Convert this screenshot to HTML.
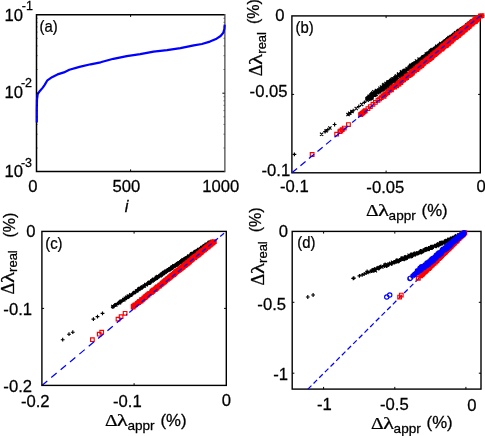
<!DOCTYPE html>
<html><head><meta charset="utf-8"><title>figure</title>
<style>
html,body{margin:0;padding:0;background:#fff;}
body{width:485px;height:436px;overflow:hidden;font-family:"Liberation Sans",sans-serif;}
svg{display:block;will-change:transform;}
</style></head><body>
<svg width="485" height="436" viewBox="0 0 485 436" font-family="'Liberation Sans', sans-serif" font-size="16" fill="#000" stroke="#000" stroke-width=".25">
<rect width="485" height="436" fill="#fff" stroke="none"/>
<path d="M224.6 14.7H36.5V171.6H224.6" fill="none" stroke="#000" stroke-width="1.5"/>
<path d="M224.9 14V172.3" fill="none" stroke="#222" stroke-width="1.05"/>
<polyline points="36.8,122.5 36.8,110.6 37,99.5 37.7,94 40.1,90.7 42.8,87.6 44.7,84.9 47.4,80.3 52,77.2 57.5,74.4 63.9,72.4 69.4,69.8 79.5,66.9 90.6,64.3 100.6,62.3 113.4,58.8 126.8,56.1 140.2,54.2 153.6,51.6 167,50.2 180.4,48.1 193.8,45.4 201.9,44 209.9,41.6 216.6,38.7 220.6,36 223.3,32.8 224.4,28.8 224.7,24.7" fill="none" stroke="#00f" stroke-width="2.2" stroke-linejoin="round"/>
<path d="M130.6 171.6v-2.2M130.6 14.7v2.2M36.5 93.2h2.2M224.6 93.2h-2.2" stroke="#000" stroke-width="1" fill="none"/>
<path d="M36.5 69.5h1.2M224.6 69.5h-1.2M36.5 55.7h1.2M224.6 55.7h-1.2M36.5 45.9h1.2M224.6 45.9h-1.2M36.5 38.3h1.2M224.6 38.3h-1.2M36.5 32.1h1.2M224.6 32.1h-1.2M36.5 26.9h1.2M224.6 26.9h-1.2M36.5 22.3h1.2M224.6 22.3h-1.2M36.5 18.3h1.2M224.6 18.3h-1.2M36.5 148h1.2M224.6 148h-1.2M36.5 134.2h1.2M224.6 134.2h-1.2M36.5 124.4h1.2M224.6 124.4h-1.2M36.5 116.8h1.2M224.6 116.8h-1.2M36.5 110.6h1.2M224.6 110.6h-1.2M36.5 105.3h1.2M224.6 105.3h-1.2M36.5 100.8h1.2M224.6 100.8h-1.2M36.5 96.7h1.2M224.6 96.7h-1.2" stroke="#000" stroke-width=".5" fill="none"/>
<text transform="translate(4.6 21) scale(1.04 1)">10</text>
<text transform="translate(21.8 10.2) scale(1.04 1)" font-size="12">-1</text>
<text transform="translate(4.6 97.5) scale(1.04 1)">10</text>
<text transform="translate(20.9 86.5) scale(1.04 1)" font-size="12">-2</text>
<text transform="translate(4.6 177.1) scale(1.04 1)">10</text>
<text transform="translate(20.9 166.6) scale(1.04 1)" font-size="12">-3</text>
<text transform="translate(32.9 192.4) scale(1.04 1)" text-anchor="middle">0</text>
<text transform="translate(126.4 192.4) scale(1.04 1)" text-anchor="middle">500</text>
<text transform="translate(220.7 192.4) scale(1.04 1)" text-anchor="middle">1000</text>
<text transform="translate(126.5 212) scale(1.04 1)" text-anchor="middle" font-style="italic">i</text>
<text transform="translate(39.6 31.5) scale(0.93 1)">(a)</text>
<rect x="291.9" y="15.9" width="188.4" height="156.9" fill="none" stroke="#000" stroke-width="1.4"/>
<path d="M386.1 172.8v-2.2M386.1 15.9v2.2M291.9 94.4h2.2M480.3 94.4h-2.2" stroke="#000" stroke-width="1" fill="none"/>
<g fill="none">
<path d="M292.5 154.4h3.8M294.4 152.5v3.8M323.2 131.6h3.8M325.1 129.7v3.8M325.9 129.6h3.8M327.8 127.7v3.8M332.7 124.5h3.8M334.6 122.6v3.8M346.9 114h3.8M348.8 112.1v3.8M348.9 112.5h3.8M350.8 110.6v3.8M351.3 110.7h3.8M353.2 108.8v3.8M356.9 106.5h3.8M358.8 104.6v3.8M362.5 102.4h3.8M364.4 100.5v3.8M367.2 98.9h3.8M369.1 97v3.8M480.5 15.7h3.8M482.4 13.8v3.8M477.5 15.9h3.8M479.4 14v3.8M475.2 17.8h3.8M477.1 15.9v3.8M474.3 18h3.8M476.2 16.1v3.8M474.1 18.2h3.8M476 16.3v3.8M476.1 18.4h3.8M478 16.5v3.8M475.3 18.6h3.8M477.2 16.7v3.8M476.4 18.8h3.8M478.3 16.9v3.8M473 18.9h3.8M474.9 17v3.8M473.5 19.1h3.8M475.4 17.2v3.8M475.5 19.3h3.8M477.4 17.4v3.8M474.8 19.5h3.8M476.7 17.6v3.8M474.4 19.7h3.8M476.3 17.8v3.8M474.1 19.9h3.8M476 18v3.8M473 20.1h3.8M474.9 18.2v3.8M472.7 20.3h3.8M474.6 18.4v3.8M472.5 20.5h3.8M474.4 18.6v3.8M473.1 20.7h3.8M475 18.8v3.8M471.8 20.9h3.8M473.7 19v3.8M472 21.1h3.8M473.9 19.2v3.8M472.9 21.3h3.8M474.8 19.4v3.8M470.1 21.4h3.8M472 19.5v3.8M470.2 21.6h3.8M472.1 19.7v3.8M471.2 21.8h3.8M473.1 19.9v3.8M470.1 22.1h3.8M472 20.2v3.8M470 22.2h3.8M471.9 20.3v3.8M471.6 22.4h3.8M473.5 20.5v3.8M470.1 22.6h3.8M472 20.7v3.8M469 22.8h3.8M470.9 20.9v3.8M470.3 22.9h3.8M472.2 21v3.8M470.7 23.1h3.8M472.6 21.2v3.8M467.6 23.3h3.8M469.5 21.4v3.8M467.8 23.5h3.8M469.7 21.6v3.8M468.3 23.6h3.8M470.2 21.7v3.8M467.3 23.8h3.8M469.2 21.9v3.8M469.5 24h3.8M471.4 22.1v3.8M468.1 24.2h3.8M470 22.3v3.8M466.9 24.3h3.8M468.8 22.4v3.8M467.5 24.5h3.8M469.4 22.6v3.8M465.9 24.7h3.8M467.8 22.8v3.8M465.8 25h3.8M467.7 23.1v3.8M466.3 25.1h3.8M468.2 23.2v3.8M467.7 25.3h3.8M469.6 23.4v3.8M463.8 25.5h3.8M465.7 23.6v3.8M465.8 25.7h3.8M467.7 23.8v3.8M466.6 25.9h3.8M468.5 24v3.8M465.7 26.1h3.8M467.6 24.2v3.8M466.4 26.3h3.8M468.3 24.4v3.8M464.9 26.5h3.8M466.8 24.6v3.8M464.3 26.6h3.8M466.2 24.7v3.8M463.8 26.8h3.8M465.7 24.9v3.8M462.7 27h3.8M464.6 25.1v3.8M465.2 27.1h3.8M467.1 25.2v3.8M461.9 27.3h3.8M463.8 25.4v3.8M462.9 27.5h3.8M464.8 25.6v3.8M462.2 27.6h3.8M464.1 25.7v3.8M461.7 27.8h3.8M463.6 25.9v3.8M460.4 28h3.8M462.3 26.1v3.8M461.6 28.2h3.8M463.5 26.3v3.8M461.9 28.4h3.8M463.8 26.5v3.8M461.7 28.5h3.8M463.6 26.6v3.8M462.3 28.7h3.8M464.2 26.8v3.8M460.9 28.9h3.8M462.8 27v3.8M460.1 29h3.8M462 27.1v3.8M460.9 29.2h3.8M462.8 27.3v3.8M461.1 29.4h3.8M463 27.5v3.8M459.1 29.6h3.8M461 27.7v3.8M458.2 29.7h3.8M460.1 27.8v3.8M458.5 29.9h3.8M460.4 28v3.8M460.6 30.1h3.8M462.5 28.2v3.8M460.3 30.3h3.8M462.2 28.4v3.8M457.9 30.5h3.8M459.8 28.6v3.8M458.8 30.6h3.8M460.7 28.7v3.8M459.4 30.8h3.8M461.3 28.9v3.8M459.7 31h3.8M461.6 29.1v3.8M457.2 31.2h3.8M459.1 29.3v3.8M457.4 31.4h3.8M459.3 29.5v3.8M459.1 31.5h3.8M461 29.6v3.8M459.2 31.7h3.8M461.1 29.8v3.8M458.7 31.9h3.8M460.6 30v3.8M455.4 32.1h3.8M457.3 30.2v3.8M457 32.3h3.8M458.9 30.4v3.8M455.9 32.5h3.8M457.8 30.6v3.8M455.9 32.6h3.8M457.8 30.7v3.8M454.9 32.8h3.8M456.8 30.9v3.8M454.9 33h3.8M456.8 31.1v3.8M455.2 33.2h3.8M457.1 31.3v3.8M457 33.3h3.8M458.9 31.4v3.8M455.5 33.6h3.8M457.4 31.7v3.8M455 33.7h3.8M456.9 31.8v3.8M454.3 33.9h3.8M456.2 32v3.8M453.1 34.1h3.8M455 32.2v3.8M453.4 34.3h3.8M455.3 32.4v3.8M454.9 34.5h3.8M456.8 32.6v3.8M454.2 34.7h3.8M456.1 32.8v3.8M455 34.8h3.8M456.9 32.9v3.8M453 35h3.8M454.9 33.1v3.8M452.4 35.2h3.8M454.3 33.3v3.8M450.2 35.4h3.8M452.1 33.5v3.8M452.4 35.6h3.8M454.3 33.7v3.8M449.6 35.8h3.8M451.5 33.9v3.8M453.3 36h3.8M455.2 34.1v3.8M450.4 36.2h3.8M452.3 34.3v3.8M450.9 36.4h3.8M452.8 34.5v3.8M448.9 36.6h3.8M450.8 34.7v3.8M449.8 36.7h3.8M451.7 34.8v3.8M449 36.9h3.8M450.9 35v3.8M451.3 37.1h3.8M453.2 35.2v3.8M450 37.3h3.8M451.9 35.4v3.8M447.9 37.5h3.8M449.8 35.6v3.8M447.1 37.6h3.8M449 35.7v3.8M448.8 37.8h3.8M450.7 35.9v3.8M448 38h3.8M449.9 36.1v3.8M447 38.2h3.8M448.9 36.3v3.8M448.9 38.4h3.8M450.8 36.5v3.8M447.7 38.6h3.8M449.6 36.7v3.8M447.8 38.8h3.8M449.7 36.9v3.8M446.7 38.9h3.8M448.6 37v3.8M446.4 39.1h3.8M448.3 37.2v3.8M446.4 39.3h3.8M448.3 37.4v3.8M444.7 39.5h3.8M446.6 37.6v3.8M447.3 39.6h3.8M449.2 37.7v3.8M446.7 39.8h3.8M448.6 37.9v3.8M443.8 40h3.8M445.7 38.1v3.8M445.9 40.2h3.8M447.8 38.3v3.8M447 40.3h3.8M448.9 38.4v3.8M445.6 40.5h3.8M447.5 38.6v3.8M446.7 40.7h3.8M448.6 38.8v3.8M444.5 40.8h3.8M446.4 38.9v3.8M444.5 41.1h3.8M446.4 39.2v3.8M442.5 41.3h3.8M444.4 39.4v3.8M442.8 41.5h3.8M444.7 39.6v3.8M441.5 41.6h3.8M443.4 39.7v3.8M442.3 41.8h3.8M444.2 39.9v3.8M443.5 42h3.8M445.4 40.1v3.8M443.7 42.2h3.8M445.6 40.3v3.8M444.3 42.4h3.8M446.2 40.5v3.8M442.7 42.5h3.8M444.6 40.6v3.8M440.9 42.7h3.8M442.8 40.8v3.8M442.6 42.9h3.8M444.5 41v3.8M441.5 43.1h3.8M443.4 41.2v3.8M443.8 43.3h3.8M445.7 41.4v3.8M443.5 43.5h3.8M445.4 41.6v3.8M442.2 43.7h3.8M444.1 41.8v3.8M439.1 43.9h3.8M441 42v3.8M439.7 44.1h3.8M441.6 42.2v3.8M440.3 44.3h3.8M442.2 42.4v3.8M438.8 44.5h3.8M440.7 42.6v3.8M440.3 44.7h3.8M442.2 42.8v3.8M440.3 44.9h3.8M442.2 43v3.8M440.3 45h3.8M442.2 43.1v3.8M439.2 45.2h3.8M441.1 43.3v3.8M437.4 45.4h3.8M439.3 43.5v3.8M437.2 45.6h3.8M439.1 43.7v3.8M438 45.7h3.8M439.9 43.8v3.8M439.7 45.9h3.8M441.6 44v3.8M439.8 46.1h3.8M441.7 44.2v3.8M438.8 46.3h3.8M440.7 44.4v3.8M437.7 46.5h3.8M439.6 44.6v3.8M437.8 46.7h3.8M439.7 44.8v3.8M437.8 46.8h3.8M439.7 44.9v3.8M438.2 47.1h3.8M440.1 45.2v3.8M437.3 47.3h3.8M439.2 45.4v3.8M433.7 47.4h3.8M435.6 45.5v3.8M436.9 47.7h3.8M438.8 45.8v3.8M435.9 47.8h3.8M437.8 45.9v3.8M434.4 48h3.8M436.3 46.1v3.8M435.6 48.2h3.8M437.5 46.3v3.8M435 48.4h3.8M436.9 46.5v3.8M434.2 48.6h3.8M436.1 46.7v3.8M431.6 48.8h3.8M433.5 46.9v3.8M433.8 49h3.8M435.7 47.1v3.8M434.2 49.2h3.8M436.1 47.3v3.8M433.1 49.4h3.8M435 47.5v3.8M430.6 49.6h3.8M432.5 47.7v3.8M433.2 49.8h3.8M435.1 47.9v3.8M433.3 50.1h3.8M435.2 48.2v3.8M432.3 50.3h3.8M434.2 48.4v3.8M432.3 50.5h3.8M434.2 48.6v3.8M430.9 50.7h3.8M432.8 48.8v3.8M430.1 50.9h3.8M432 49v3.8M431.6 51.1h3.8M433.5 49.2v3.8M430 51.3h3.8M431.9 49.4v3.8M430.5 51.5h3.8M432.4 49.6v3.8M432.5 51.7h3.8M434.4 49.8v3.8M430.7 52h3.8M432.6 50.1v3.8M429.5 52.2h3.8M431.4 50.3v3.8M426.6 52.4h3.8M428.5 50.5v3.8M428.9 52.7h3.8M430.8 50.8v3.8M429.6 52.9h3.8M431.5 51v3.8M427.1 53.1h3.8M429 51.2v3.8M427.4 53.4h3.8M429.3 51.5v3.8M425 53.5h3.8M426.9 51.6v3.8M428.1 53.7h3.8M430 51.8v3.8M426.1 53.9h3.8M428 52v3.8M427.8 54.1h3.8M429.7 52.2v3.8M428.6 54.3h3.8M430.5 52.4v3.8M426 54.5h3.8M427.9 52.6v3.8M427.4 54.7h3.8M429.3 52.8v3.8M426.1 54.9h3.8M428 53v3.8M424.9 55.2h3.8M426.8 53.3v3.8M424.6 55.4h3.8M426.5 53.5v3.8M423.4 55.7h3.8M425.3 53.8v3.8M426.3 55.9h3.8M428.2 54v3.8M425.4 56.1h3.8M427.3 54.2v3.8M422.1 56.4h3.8M424 54.5v3.8M424.7 56.6h3.8M426.6 54.7v3.8M422.1 56.7h3.8M424 54.8v3.8M420.5 57h3.8M422.4 55.1v3.8M424.5 57.2h3.8M426.4 55.3v3.8M420.4 57.3h3.8M422.3 55.4v3.8M424 57.5h3.8M425.9 55.6v3.8M422.1 57.8h3.8M424 55.9v3.8M422.9 58h3.8M424.8 56.1v3.8M422 58.2h3.8M423.9 56.3v3.8M422.8 58.4h3.8M424.7 56.5v3.8M421.1 58.7h3.8M423 56.8v3.8M421.1 58.9h3.8M423 57v3.8M420.3 59.1h3.8M422.2 57.2v3.8M421.3 59.4h3.8M423.2 57.5v3.8M418.7 59.6h3.8M420.6 57.7v3.8M420.6 59.9h3.8M422.5 58v3.8M421.1 60h3.8M423 58.1v3.8M418.4 60.2h3.8M420.3 58.3v3.8M418.8 60.5h3.8M420.7 58.6v3.8M416.9 60.8h3.8M418.8 58.9v3.8M416.9 61h3.8M418.8 59.1v3.8M417.5 61.2h3.8M419.4 59.3v3.8M416.3 61.4h3.8M418.2 59.5v3.8M415.1 61.6h3.8M417 59.7v3.8M416.3 61.8h3.8M418.2 59.9v3.8M416.4 62h3.8M418.3 60.1v3.8M416.2 62.3h3.8M418.1 60.4v3.8M416.6 62.5h3.8M418.5 60.6v3.8M412.1 62.8h3.8M414 60.9v3.8M416.9 63.1h3.8M418.8 61.2v3.8M414 63.3h3.8M415.9 61.4v3.8M412.8 63.4h3.8M414.7 61.5v3.8M413.2 63.6h3.8M415.1 61.7v3.8M414.3 63.8h3.8M416.2 61.9v3.8M414.7 64h3.8M416.6 62.1v3.8M412.3 64.3h3.8M414.2 62.4v3.8M412.8 64.5h3.8M414.7 62.6v3.8M409.6 64.7h3.8M411.5 62.8v3.8M412.2 65h3.8M414.1 63.1v3.8M411.4 65.2h3.8M413.3 63.3v3.8M410.6 65.5h3.8M412.5 63.6v3.8M412.6 65.6h3.8M414.5 63.7v3.8M413.7 65.8h3.8M415.6 63.9v3.8M412.2 66.1h3.8M414.1 64.2v3.8M408.9 66.3h3.8M410.8 64.4v3.8M412.5 66.5h3.8M414.4 64.6v3.8M409.1 66.7h3.8M411 64.8v3.8M409.3 66.9h3.8M411.2 65v3.8M408 67.2h3.8M409.9 65.3v3.8M409.5 67.4h3.8M411.4 65.5v3.8M409.2 67.7h3.8M411.1 65.8v3.8M408.1 68h3.8M410 66.1v3.8M406.7 68.6h3.8M408.6 66.7v3.8M406.4 68.9h3.8M408.3 67v3.8M405.4 69.3h3.8M407.3 67.4v3.8M407.4 69.6h3.8M409.3 67.7v3.8M404 70.2h3.8M405.9 68.3v3.8M404.4 70.3h3.8M406.3 68.4v3.8M403.8 70.7h3.8M405.7 68.8v3.8M402.4 71h3.8M404.3 69.1v3.8M402.9 71.4h3.8M404.8 69.5v3.8M400.3 71.7h3.8M402.2 69.8v3.8M403.4 71.8h3.8M405.3 69.9v3.8M403.1 72.3h3.8M405 70.4v3.8M401 72.7h3.8M402.9 70.8v3.8M404.1 72.8h3.8M406 70.9v3.8M399.1 73.3h3.8M401 71.4v3.8M400.9 73.9h3.8M402.8 72v3.8M400.5 74.1h3.8M402.4 72.2v3.8M398.3 74.3h3.8M400.2 72.4v3.8M398.4 74.6h3.8M400.3 72.7v3.8M400.3 74.8h3.8M402.2 72.9v3.8M398.1 75.3h3.8M400 73.4v3.8M398.1 75.6h3.8M400 73.7v3.8M399.8 75.8h3.8M401.7 73.9v3.8M397.4 76h3.8M399.3 74.1v3.8M393 76.7h3.8M394.9 74.8v3.8M393.6 77.5h3.8M395.5 75.6v3.8M395.5 78.3h3.8M397.4 76.4v3.8M392.9 78.9h3.8M394.8 77v3.8M390.8 79h3.8M392.7 77.1v3.8M388.8 79.7h3.8M390.7 77.8v3.8M392.3 79.9h3.8M394.2 78v3.8M393.9 80.4h3.8M395.8 78.5v3.8M387.9 80.9h3.8M389.8 79v3.8M385.8 81.8h3.8M387.7 79.9v3.8M389.5 82.3h3.8M391.4 80.4v3.8M386.9 82.6h3.8M388.8 80.7v3.8M387 82.9h3.8M388.9 81v3.8M386 83.6h3.8M387.9 81.7v3.8M384.1 84.2h3.8M386 82.3v3.8M386.3 84.5h3.8M388.2 82.6v3.8M386.5 85.1h3.8M388.4 83.2v3.8M384.5 85.7h3.8M386.4 83.8v3.8M381.7 86.4h3.8M383.6 84.5v3.8M384 87.1h3.8M385.9 85.2v3.8M381 87.6h3.8M382.9 85.7v3.8M380.8 88.8h3.8M382.7 86.9v3.8M376.2 89.9h3.8M378.1 88v3.8M378.7 90.5h3.8M380.6 88.6v3.8M377.1 91.8h3.8M379 89.9v3.8M377.2 92.5h3.8M379.1 90.6v3.8M372.8 93.8h3.8M374.7 91.9v3.8M372.6 94.6h3.8M374.5 92.7v3.8M368.6 96h3.8M370.5 94.1v3.8M371.2 96.4h3.8M373.1 94.5v3.8M392.7 80.2h3.8M394.6 78.3v3.8M392.6 80.8h3.8M394.5 78.9v3.8M389.1 81.2h3.8M391 79.3v3.8M386.5 81.9h3.8M388.4 80v3.8M388.1 82.5h3.8M390 80.6v3.8M387.1 83h3.8M389 81.1v3.8M385.4 83.4h3.8M387.3 81.5v3.8M387.3 84h3.8M389.2 82.1v3.8M387.2 84.6h3.8M389.1 82.7v3.8M385.2 85.2h3.8M387.1 83.3v3.8M386.1 85.7h3.8M388 83.8v3.8M383.9 86.2h3.8M385.8 84.3v3.8M380.4 86.7h3.8M382.3 84.8v3.8M380.3 87.4h3.8M382.2 85.5v3.8M380.2 87.8h3.8M382.1 85.9v3.8M381.7 88.3h3.8M383.6 86.4v3.8M381.2 89h3.8M383.1 87.1v3.8M378.8 89.6h3.8M380.7 87.7v3.8M379.9 90.1h3.8M381.8 88.2v3.8M375.4 90.6h3.8M377.3 88.7v3.8M376.1 91.2h3.8M378 89.3v3.8M378.9 91.6h3.8M380.8 89.7v3.8M375.8 92.3h3.8M377.7 90.4v3.8M376.5 92.7h3.8M378.4 90.8v3.8M369.9 93.2h3.8M371.8 91.3v3.8M369.1 93.9h3.8M371 92v3.8M370.1 94.5h3.8M372 92.6v3.8M373.4 95h3.8M375.3 93.1v3.8M374.1 95.4h3.8M376 93.5v3.8M368.3 96.2h3.8M370.2 94.3v3.8M366.8 96.7h3.8M368.7 94.8v3.8M366.1 97.1h3.8M368 95.2v3.8M365.6 97.7h3.8M367.5 95.8v3.8M367.9 98.3h3.8M369.8 96.4v3.8M365.3 98.8h3.8M367.2 96.9v3.8M369.1 99.3h3.8M371 97.4v3.8" stroke="#000" stroke-width="1.15"/>
<path d="M320 132.6l3.2 3.2M320 135.8l3.2 -3.2M324.6 129.2l3.2 3.2M324.6 132.4l3.2 -3.2M328.3 126.4l3.2 3.2M328.3 129.6l3.2 -3.2M346.4 113l3.2 3.2M346.4 116.2l3.2 -3.2M348.1 111.7l3.2 3.2M348.1 114.9l3.2 -3.2M350.4 110l3.2 3.2M350.4 113.2l3.2 -3.2M354.6 106.9l3.2 3.2M354.6 110.1l3.2 -3.2M360.1 102.8l3.2 3.2M360.1 106l3.2 -3.2M365.6 98.7l3.2 3.2M365.6 101.9l3.2 -3.2M369.2 96l3.2 3.2M369.2 99.2l3.2 -3.2M479.9 14.1l3.2 3.2M479.9 17.3l3.2 -3.2M478.4 14.3l3.2 3.2M478.4 17.5l3.2 -3.2M476.7 16.2l3.2 3.2M476.7 19.4l3.2 -3.2M476.1 16.4l3.2 3.2M476.1 19.6l3.2 -3.2M476.6 16.6l3.2 3.2M476.6 19.8l3.2 -3.2M476.5 16.8l3.2 3.2M476.5 20l3.2 -3.2M475.1 17l3.2 3.2M475.1 20.2l3.2 -3.2M476 17.2l3.2 3.2M476 20.4l3.2 -3.2M475.5 17.3l3.2 3.2M475.5 20.5l3.2 -3.2M474.6 17.5l3.2 3.2M474.6 20.7l3.2 -3.2M474.7 17.7l3.2 3.2M474.7 20.9l3.2 -3.2M474.8 17.9l3.2 3.2M474.8 21.1l3.2 -3.2M473.6 18.1l3.2 3.2M473.6 21.3l3.2 -3.2M473 18.3l3.2 3.2M473 21.5l3.2 -3.2M474.5 18.5l3.2 3.2M474.5 21.7l3.2 -3.2M473 18.7l3.2 3.2M473 21.9l3.2 -3.2M472.2 18.9l3.2 3.2M472.2 22.1l3.2 -3.2M473 19.1l3.2 3.2M473 22.3l3.2 -3.2M470.9 19.3l3.2 3.2M470.9 22.5l3.2 -3.2M472 19.5l3.2 3.2M472 22.7l3.2 -3.2M470.4 19.7l3.2 3.2M470.4 22.9l3.2 -3.2M471.1 19.8l3.2 3.2M471.1 23l3.2 -3.2M469.6 20l3.2 3.2M469.6 23.2l3.2 -3.2M470.3 20.2l3.2 3.2M470.3 23.4l3.2 -3.2M471.6 20.5l3.2 3.2M471.6 23.7l3.2 -3.2M470.3 20.6l3.2 3.2M470.3 23.8l3.2 -3.2M469 20.8l3.2 3.2M469 24l3.2 -3.2M471.6 21l3.2 3.2M471.6 24.2l3.2 -3.2M469.1 21.2l3.2 3.2M469.1 24.4l3.2 -3.2M470.9 21.3l3.2 3.2M470.9 24.5l3.2 -3.2M468.7 21.5l3.2 3.2M468.7 24.7l3.2 -3.2M467.5 21.7l3.2 3.2M467.5 24.9l3.2 -3.2M470.5 21.9l3.2 3.2M470.5 25.1l3.2 -3.2M468.1 22l3.2 3.2M468.1 25.2l3.2 -3.2M469 22.2l3.2 3.2M469 25.4l3.2 -3.2M469.3 22.4l3.2 3.2M469.3 25.6l3.2 -3.2M466.5 22.6l3.2 3.2M466.5 25.8l3.2 -3.2M467.7 22.7l3.2 3.2M467.7 25.9l3.2 -3.2M466.7 22.9l3.2 3.2M466.7 26.1l3.2 -3.2M467.7 23.1l3.2 3.2M467.7 26.3l3.2 -3.2M466.7 23.4l3.2 3.2M466.7 26.6l3.2 -3.2M465.2 23.5l3.2 3.2M465.2 26.7l3.2 -3.2M466.3 23.7l3.2 3.2M466.3 26.9l3.2 -3.2M466.7 23.9l3.2 3.2M466.7 27.1l3.2 -3.2M465.4 24.1l3.2 3.2M465.4 27.3l3.2 -3.2M466 24.3l3.2 3.2M466 27.5l3.2 -3.2M464.6 24.5l3.2 3.2M464.6 27.7l3.2 -3.2M464.9 24.7l3.2 3.2M464.9 27.9l3.2 -3.2M465 24.9l3.2 3.2M465 28.1l3.2 -3.2M464.6 25l3.2 3.2M464.6 28.2l3.2 -3.2M465.5 25.2l3.2 3.2M465.5 28.4l3.2 -3.2M465 25.4l3.2 3.2M465 28.6l3.2 -3.2M464.6 25.5l3.2 3.2M464.6 28.7l3.2 -3.2M464.3 25.7l3.2 3.2M464.3 28.9l3.2 -3.2M463.5 25.9l3.2 3.2M463.5 29.1l3.2 -3.2M461.8 26l3.2 3.2M461.8 29.2l3.2 -3.2M464 26.2l3.2 3.2M464 29.4l3.2 -3.2M464.4 26.4l3.2 3.2M464.4 29.6l3.2 -3.2M462.6 26.6l3.2 3.2M462.6 29.8l3.2 -3.2M461.8 26.8l3.2 3.2M461.8 30l3.2 -3.2M461.8 26.9l3.2 3.2M461.8 30.1l3.2 -3.2M462.9 27.1l3.2 3.2M462.9 30.3l3.2 -3.2M461.7 27.3l3.2 3.2M461.7 30.5l3.2 -3.2M460.1 27.4l3.2 3.2M460.1 30.6l3.2 -3.2M460.7 27.6l3.2 3.2M460.7 30.8l3.2 -3.2M459.8 27.8l3.2 3.2M459.8 31l3.2 -3.2M460.2 28l3.2 3.2M460.2 31.2l3.2 -3.2M459.2 28.1l3.2 3.2M459.2 31.3l3.2 -3.2M459 28.3l3.2 3.2M459 31.5l3.2 -3.2M461.3 28.5l3.2 3.2M461.3 31.7l3.2 -3.2M460.6 28.7l3.2 3.2M460.6 31.9l3.2 -3.2M457.5 28.9l3.2 3.2M457.5 32.1l3.2 -3.2M457.9 29l3.2 3.2M457.9 32.2l3.2 -3.2M458.3 29.2l3.2 3.2M458.3 32.4l3.2 -3.2M458.1 29.4l3.2 3.2M458.1 32.6l3.2 -3.2M456.7 29.6l3.2 3.2M456.7 32.8l3.2 -3.2M459 29.8l3.2 3.2M459 33l3.2 -3.2M456 29.9l3.2 3.2M456 33.1l3.2 -3.2M458.3 30.1l3.2 3.2M458.3 33.3l3.2 -3.2M458 30.3l3.2 3.2M458 33.5l3.2 -3.2M456.6 30.5l3.2 3.2M456.6 33.7l3.2 -3.2M456 30.7l3.2 3.2M456 33.9l3.2 -3.2M456.6 30.9l3.2 3.2M456.6 34.1l3.2 -3.2M456.5 31l3.2 3.2M456.5 34.2l3.2 -3.2M454 31.2l3.2 3.2M454 34.4l3.2 -3.2M454.3 31.4l3.2 3.2M454.3 34.6l3.2 -3.2M456.2 31.6l3.2 3.2M456.2 34.8l3.2 -3.2M455.2 31.7l3.2 3.2M455.2 34.9l3.2 -3.2M454.5 32l3.2 3.2M454.5 35.2l3.2 -3.2M453.6 32.1l3.2 3.2M453.6 35.3l3.2 -3.2M453.7 32.3l3.2 3.2M453.7 35.5l3.2 -3.2M453.4 32.5l3.2 3.2M453.4 35.7l3.2 -3.2M456 32.7l3.2 3.2M456 35.9l3.2 -3.2M452.3 32.9l3.2 3.2M452.3 36.1l3.2 -3.2M455.3 33.1l3.2 3.2M455.3 36.3l3.2 -3.2M453.9 33.2l3.2 3.2M453.9 36.4l3.2 -3.2M453.3 33.4l3.2 3.2M453.3 36.6l3.2 -3.2M453 33.6l3.2 3.2M453 36.8l3.2 -3.2M452 33.8l3.2 3.2M452 37l3.2 -3.2M454.2 34l3.2 3.2M454.2 37.2l3.2 -3.2M452.6 34.2l3.2 3.2M452.6 37.4l3.2 -3.2M451.7 34.4l3.2 3.2M451.7 37.6l3.2 -3.2M451.3 34.6l3.2 3.2M451.3 37.8l3.2 -3.2M451.5 34.8l3.2 3.2M451.5 38l3.2 -3.2M449.5 35l3.2 3.2M449.5 38.2l3.2 -3.2M450.3 35.1l3.2 3.2M450.3 38.3l3.2 -3.2M449.7 35.3l3.2 3.2M449.7 38.5l3.2 -3.2M450.9 35.5l3.2 3.2M450.9 38.7l3.2 -3.2M450.7 35.7l3.2 3.2M450.7 38.9l3.2 -3.2M447.6 35.9l3.2 3.2M447.6 39.1l3.2 -3.2M449.2 36l3.2 3.2M449.2 39.2l3.2 -3.2M450.4 36.2l3.2 3.2M450.4 39.4l3.2 -3.2M447.4 36.4l3.2 3.2M447.4 39.6l3.2 -3.2M447.3 36.6l3.2 3.2M447.3 39.8l3.2 -3.2M449.7 36.8l3.2 3.2M449.7 40l3.2 -3.2M448 37l3.2 3.2M448 40.2l3.2 -3.2M447.4 37.2l3.2 3.2M447.4 40.4l3.2 -3.2M446.2 37.3l3.2 3.2M446.2 40.5l3.2 -3.2M447.7 37.5l3.2 3.2M447.7 40.7l3.2 -3.2M446.6 37.7l3.2 3.2M446.6 40.9l3.2 -3.2M447.3 37.9l3.2 3.2M447.3 41.1l3.2 -3.2M447.3 38l3.2 3.2M447.3 41.2l3.2 -3.2M447.4 38.2l3.2 3.2M447.4 41.4l3.2 -3.2M445.9 38.4l3.2 3.2M445.9 41.6l3.2 -3.2M445.4 38.6l3.2 3.2M445.4 41.8l3.2 -3.2M445.9 38.7l3.2 3.2M445.9 41.9l3.2 -3.2M445.5 38.9l3.2 3.2M445.5 42.1l3.2 -3.2M445.6 39.1l3.2 3.2M445.6 42.3l3.2 -3.2M444.5 39.2l3.2 3.2M444.5 42.4l3.2 -3.2M444.5 39.5l3.2 3.2M444.5 42.7l3.2 -3.2M443.8 39.7l3.2 3.2M443.8 42.9l3.2 -3.2M443.5 39.9l3.2 3.2M443.5 43.1l3.2 -3.2M444.2 40l3.2 3.2M444.2 43.2l3.2 -3.2M445.3 40.2l3.2 3.2M445.3 43.4l3.2 -3.2M442.8 40.4l3.2 3.2M442.8 43.6l3.2 -3.2M444.1 40.6l3.2 3.2M444.1 43.8l3.2 -3.2M443.5 40.8l3.2 3.2M443.5 44l3.2 -3.2M443 40.9l3.2 3.2M443 44.1l3.2 -3.2M443.4 41.1l3.2 3.2M443.4 44.3l3.2 -3.2M441.6 41.3l3.2 3.2M441.6 44.5l3.2 -3.2M442.8 41.5l3.2 3.2M442.8 44.7l3.2 -3.2M442.2 41.7l3.2 3.2M442.2 44.9l3.2 -3.2M439.3 41.9l3.2 3.2M439.3 45.1l3.2 -3.2M441.7 42.1l3.2 3.2M441.7 45.3l3.2 -3.2M441.8 42.3l3.2 3.2M441.8 45.5l3.2 -3.2M443 42.5l3.2 3.2M443 45.7l3.2 -3.2M439 42.7l3.2 3.2M439 45.9l3.2 -3.2M440.2 42.9l3.2 3.2M440.2 46.1l3.2 -3.2M440.3 43.1l3.2 3.2M440.3 46.3l3.2 -3.2M438.4 43.3l3.2 3.2M438.4 46.5l3.2 -3.2M441 43.4l3.2 3.2M441 46.6l3.2 -3.2M439.8 43.6l3.2 3.2M439.8 46.8l3.2 -3.2M437.8 43.8l3.2 3.2M437.8 47l3.2 -3.2M437.1 44l3.2 3.2M437.1 47.2l3.2 -3.2M437.9 44.1l3.2 3.2M437.9 47.3l3.2 -3.2M440.5 44.3l3.2 3.2M440.5 47.5l3.2 -3.2M440.3 44.5l3.2 3.2M440.3 47.7l3.2 -3.2M435.4 44.7l3.2 3.2M435.4 47.9l3.2 -3.2M435.1 44.9l3.2 3.2M435.1 48.1l3.2 -3.2M438.1 45.1l3.2 3.2M438.1 48.3l3.2 -3.2M436.8 45.2l3.2 3.2M436.8 48.4l3.2 -3.2M435.8 45.5l3.2 3.2M435.8 48.7l3.2 -3.2M437.2 45.7l3.2 3.2M437.2 48.9l3.2 -3.2M436.3 45.8l3.2 3.2M436.3 49l3.2 -3.2M436.3 46.1l3.2 3.2M436.3 49.3l3.2 -3.2M436 46.2l3.2 3.2M436 49.4l3.2 -3.2M433.9 46.4l3.2 3.2M433.9 49.6l3.2 -3.2M437 46.6l3.2 3.2M437 49.8l3.2 -3.2M434.3 46.8l3.2 3.2M434.3 50l3.2 -3.2M436.1 47l3.2 3.2M436.1 50.2l3.2 -3.2M435.2 47.2l3.2 3.2M435.2 50.4l3.2 -3.2M434 47.4l3.2 3.2M434 50.6l3.2 -3.2M433.9 47.6l3.2 3.2M433.9 50.8l3.2 -3.2M433.4 47.8l3.2 3.2M433.4 51l3.2 -3.2M430.7 48l3.2 3.2M430.7 51.2l3.2 -3.2M432.4 48.2l3.2 3.2M432.4 51.4l3.2 -3.2M433.2 48.5l3.2 3.2M433.2 51.7l3.2 -3.2M430 48.7l3.2 3.2M430 51.9l3.2 -3.2M429.9 48.9l3.2 3.2M429.9 52.1l3.2 -3.2M433.2 49.1l3.2 3.2M433.2 52.3l3.2 -3.2M432.6 49.3l3.2 3.2M432.6 52.5l3.2 -3.2M428.9 49.5l3.2 3.2M428.9 52.7l3.2 -3.2M431.5 49.7l3.2 3.2M431.5 52.9l3.2 -3.2M430.5 49.9l3.2 3.2M430.5 53.1l3.2 -3.2M431.7 50.1l3.2 3.2M431.7 53.3l3.2 -3.2M429.5 50.4l3.2 3.2M429.5 53.6l3.2 -3.2M429.3 50.6l3.2 3.2M429.3 53.8l3.2 -3.2M428.3 50.8l3.2 3.2M428.3 54l3.2 -3.2M429.3 51.1l3.2 3.2M429.3 54.3l3.2 -3.2M428.6 51.3l3.2 3.2M428.6 54.5l3.2 -3.2M427.5 51.5l3.2 3.2M427.5 54.7l3.2 -3.2M427.6 51.8l3.2 3.2M427.6 55l3.2 -3.2M426.7 51.9l3.2 3.2M426.7 55.1l3.2 -3.2M428.5 52.1l3.2 3.2M428.5 55.3l3.2 -3.2M425.8 52.3l3.2 3.2M425.8 55.5l3.2 -3.2M424.7 52.5l3.2 3.2M424.7 55.7l3.2 -3.2M425.4 52.7l3.2 3.2M425.4 55.9l3.2 -3.2M428.2 52.9l3.2 3.2M428.2 56.1l3.2 -3.2M425.5 53.1l3.2 3.2M425.5 56.3l3.2 -3.2M427 53.3l3.2 3.2M427 56.5l3.2 -3.2M426.7 53.6l3.2 3.2M426.7 56.8l3.2 -3.2M424.6 53.8l3.2 3.2M424.6 57l3.2 -3.2M426.1 54.1l3.2 3.2M426.1 57.3l3.2 -3.2M425.4 54.3l3.2 3.2M425.4 57.5l3.2 -3.2M424.3 54.5l3.2 3.2M424.3 57.7l3.2 -3.2M422.9 54.8l3.2 3.2M422.9 58l3.2 -3.2M423.7 55l3.2 3.2M423.7 58.2l3.2 -3.2M421.6 55.1l3.2 3.2M421.6 58.3l3.2 -3.2M422.8 55.4l3.2 3.2M422.8 58.6l3.2 -3.2M422 55.6l3.2 3.2M422 58.8l3.2 -3.2M423.4 55.7l3.2 3.2M423.4 58.9l3.2 -3.2M423 55.9l3.2 3.2M423 59.1l3.2 -3.2M421.1 56.2l3.2 3.2M421.1 59.4l3.2 -3.2M423.1 56.4l3.2 3.2M423.1 59.6l3.2 -3.2M423.4 56.6l3.2 3.2M423.4 59.8l3.2 -3.2M421.4 56.8l3.2 3.2M421.4 60l3.2 -3.2M419.7 57.1l3.2 3.2M419.7 60.3l3.2 -3.2M421.3 57.3l3.2 3.2M421.3 60.5l3.2 -3.2M417.5 57.5l3.2 3.2M417.5 60.7l3.2 -3.2M419 57.8l3.2 3.2M419 61l3.2 -3.2M420.5 58l3.2 3.2M420.5 61.2l3.2 -3.2M422 58.3l3.2 3.2M422 61.5l3.2 -3.2M417.9 58.4l3.2 3.2M417.9 61.6l3.2 -3.2M421.2 58.6l3.2 3.2M421.2 61.8l3.2 -3.2M421.1 58.9l3.2 3.2M421.1 62.1l3.2 -3.2M420.8 59.2l3.2 3.2M420.8 62.4l3.2 -3.2M414.9 59.4l3.2 3.2M414.9 62.6l3.2 -3.2M419.2 59.6l3.2 3.2M419.2 62.8l3.2 -3.2M417.5 59.8l3.2 3.2M417.5 63l3.2 -3.2M418.5 60l3.2 3.2M418.5 63.2l3.2 -3.2M416.3 60.2l3.2 3.2M416.3 63.4l3.2 -3.2M415.4 60.4l3.2 3.2M415.4 63.6l3.2 -3.2M415.6 60.7l3.2 3.2M415.6 63.9l3.2 -3.2M418.2 60.9l3.2 3.2M418.2 64.1l3.2 -3.2M416.6 61.2l3.2 3.2M416.6 64.4l3.2 -3.2M414.4 61.5l3.2 3.2M414.4 64.7l3.2 -3.2M415.2 61.7l3.2 3.2M415.2 64.9l3.2 -3.2M415.8 61.8l3.2 3.2M415.8 65l3.2 -3.2M415.1 62l3.2 3.2M415.1 65.2l3.2 -3.2M413.8 62.2l3.2 3.2M413.8 65.4l3.2 -3.2M412.5 62.4l3.2 3.2M412.5 65.6l3.2 -3.2M411.9 62.7l3.2 3.2M411.9 65.9l3.2 -3.2M412.2 62.9l3.2 3.2M412.2 66.1l3.2 -3.2M411.7 63.1l3.2 3.2M411.7 66.3l3.2 -3.2M409.6 63.4l3.2 3.2M409.6 66.6l3.2 -3.2M409.6 63.6l3.2 3.2M409.6 66.8l3.2 -3.2M413.1 63.9l3.2 3.2M413.1 67.1l3.2 -3.2M409.6 64l3.2 3.2M409.6 67.2l3.2 -3.2M408.9 64.2l3.2 3.2M408.9 67.4l3.2 -3.2M410.7 64.5l3.2 3.2M410.7 67.7l3.2 -3.2M412.9 64.7l3.2 3.2M412.9 67.9l3.2 -3.2M412.3 64.9l3.2 3.2M412.3 68.1l3.2 -3.2M409.3 65.1l3.2 3.2M409.3 68.3l3.2 -3.2M407.9 65.3l3.2 3.2M407.9 68.5l3.2 -3.2M408.4 65.6l3.2 3.2M408.4 68.8l3.2 -3.2M407.5 65.8l3.2 3.2M407.5 69l3.2 -3.2M407.6 66.1l3.2 3.2M407.6 69.3l3.2 -3.2M409 66.4l3.2 3.2M409 69.6l3.2 -3.2M405.6 67l3.2 3.2M405.6 70.2l3.2 -3.2M405.6 67.3l3.2 3.2M405.6 70.5l3.2 -3.2M405.9 67.7l3.2 3.2M405.9 70.9l3.2 -3.2M405.9 68l3.2 3.2M405.9 71.2l3.2 -3.2M403.9 68.6l3.2 3.2M403.9 71.8l3.2 -3.2M403.6 68.7l3.2 3.2M403.6 71.9l3.2 -3.2M402.5 69.1l3.2 3.2M402.5 72.3l3.2 -3.2M402.8 69.4l3.2 3.2M402.8 72.6l3.2 -3.2M404.5 69.8l3.2 3.2M404.5 73l3.2 -3.2M402.8 70.1l3.2 3.2M402.8 73.3l3.2 -3.2M399.9 70.2l3.2 3.2M399.9 73.4l3.2 -3.2M403.5 70.7l3.2 3.2M403.5 73.9l3.2 -3.2M401.7 71.1l3.2 3.2M401.7 74.3l3.2 -3.2M400 71.2l3.2 3.2M400 74.4l3.2 -3.2M400.5 71.7l3.2 3.2M400.5 74.9l3.2 -3.2M397.1 72.3l3.2 3.2M397.1 75.5l3.2 -3.2M396.9 72.5l3.2 3.2M396.9 75.7l3.2 -3.2M401.7 72.7l3.2 3.2M401.7 75.9l3.2 -3.2M402.3 73l3.2 3.2M402.3 76.2l3.2 -3.2M402.1 73.2l3.2 3.2M402.1 76.4l3.2 -3.2M396.9 73.7l3.2 3.2M396.9 76.9l3.2 -3.2M398 74l3.2 3.2M398 77.2l3.2 -3.2M399 74.2l3.2 3.2M399 77.4l3.2 -3.2M395 74.4l3.2 3.2M395 77.6l3.2 -3.2M399.6 75.1l3.2 3.2M399.6 78.3l3.2 -3.2M393.9 75.9l3.2 3.2M393.9 79.1l3.2 -3.2M394.9 76.7l3.2 3.2M394.9 79.9l3.2 -3.2M391.2 77.3l3.2 3.2M391.2 80.5l3.2 -3.2M393.9 77.4l3.2 3.2M393.9 80.6l3.2 -3.2M392.3 78.1l3.2 3.2M392.3 81.3l3.2 -3.2M394.1 78.3l3.2 3.2M394.1 81.5l3.2 -3.2M389.1 78.8l3.2 3.2M389.1 82l3.2 -3.2M390.6 79.3l3.2 3.2M390.6 82.5l3.2 -3.2M392.7 80.2l3.2 3.2M392.7 83.4l3.2 -3.2M386.5 80.7l3.2 3.2M386.5 83.9l3.2 -3.2M389 81l3.2 3.2M389 84.2l3.2 -3.2M388.7 81.3l3.2 3.2M388.7 84.5l3.2 -3.2M386 82l3.2 3.2M386 85.2l3.2 -3.2M385.7 82.6l3.2 3.2M385.7 85.8l3.2 -3.2M388.6 82.9l3.2 3.2M388.6 86.1l3.2 -3.2M387.2 83.5l3.2 3.2M387.2 86.7l3.2 -3.2M385.2 84.1l3.2 3.2M385.2 87.3l3.2 -3.2M383.6 84.8l3.2 3.2M383.6 88l3.2 -3.2M379.9 85.5l3.2 3.2M379.9 88.7l3.2 -3.2M381.7 86l3.2 3.2M381.7 89.2l3.2 -3.2M383.5 87.2l3.2 3.2M383.5 90.4l3.2 -3.2M380.6 88.3l3.2 3.2M380.6 91.5l3.2 -3.2M374.8 88.9l3.2 3.2M374.8 92.1l3.2 -3.2M372.2 90.2l3.2 3.2M372.2 93.4l3.2 -3.2M373.4 90.9l3.2 3.2M373.4 94.1l3.2 -3.2M373.4 92.2l3.2 3.2M373.4 95.4l3.2 -3.2M370.8 93l3.2 3.2M370.8 96.2l3.2 -3.2M369.5 94.4l3.2 3.2M369.5 97.6l3.2 -3.2M370.3 94.8l3.2 3.2M370.3 98l3.2 -3.2M393.3 78.6l3.2 3.2M393.3 81.8l3.2 -3.2M391.2 79.2l3.2 3.2M391.2 82.4l3.2 -3.2M392.6 79.6l3.2 3.2M392.6 82.8l3.2 -3.2M386.4 80.3l3.2 3.2M386.4 83.5l3.2 -3.2M389.4 80.9l3.2 3.2M389.4 84.1l3.2 -3.2M388.6 81.4l3.2 3.2M388.6 84.6l3.2 -3.2M384.3 81.8l3.2 3.2M384.3 85l3.2 -3.2M388.9 82.4l3.2 3.2M388.9 85.6l3.2 -3.2M382.5 83l3.2 3.2M382.5 86.2l3.2 -3.2M381.9 83.6l3.2 3.2M381.9 86.8l3.2 -3.2M387.6 84.1l3.2 3.2M387.6 87.3l3.2 -3.2M386 84.6l3.2 3.2M386 87.8l3.2 -3.2M383.5 85.1l3.2 3.2M383.5 88.3l3.2 -3.2M384.5 85.8l3.2 3.2M384.5 89l3.2 -3.2M383.6 86.2l3.2 3.2M383.6 89.4l3.2 -3.2M378.3 86.7l3.2 3.2M378.3 89.9l3.2 -3.2M380.6 87.4l3.2 3.2M380.6 90.6l3.2 -3.2M381.7 88l3.2 3.2M381.7 91.2l3.2 -3.2M377.8 88.5l3.2 3.2M377.8 91.7l3.2 -3.2M377.6 89l3.2 3.2M377.6 92.2l3.2 -3.2M375.6 89.6l3.2 3.2M375.6 92.8l3.2 -3.2M377.6 90l3.2 3.2M377.6 93.2l3.2 -3.2M374 90.7l3.2 3.2M374 93.9l3.2 -3.2M373.4 91.1l3.2 3.2M373.4 94.3l3.2 -3.2M371.2 91.6l3.2 3.2M371.2 94.8l3.2 -3.2M371 92.3l3.2 3.2M371 95.5l3.2 -3.2M372.7 92.9l3.2 3.2M372.7 96.1l3.2 -3.2M372.5 93.4l3.2 3.2M372.5 96.6l3.2 -3.2M370.1 93.8l3.2 3.2M370.1 97l3.2 -3.2M367.6 94.6l3.2 3.2M367.6 97.8l3.2 -3.2M370 95.1l3.2 3.2M370 98.3l3.2 -3.2M369.4 95.5l3.2 3.2M369.4 98.7l3.2 -3.2M370.6 96.1l3.2 3.2M370.6 99.3l3.2 -3.2M365.9 96.7l3.2 3.2M365.9 99.9l3.2 -3.2M365.4 97.2l3.2 3.2M365.4 100.4l3.2 -3.2M366.8 97.7l3.2 3.2M366.8 100.9l3.2 -3.2" stroke="#000" stroke-width="1.15"/>
<path d="M310.3 152.6h3.7v3.7h-3.7zM334.8 132.3h3.7v3.7h-3.7zM338 129.8h3.7v3.7h-3.7zM339 129h3.7v3.7h-3.7zM340.4 127.8h3.7v3.7h-3.7zM342.4 126.2h3.7v3.7h-3.7zM346.6 122.7h3.7v3.7h-3.7zM358.7 112.8h3.7v3.7h-3.7zM359.4 112.2h3.7v3.7h-3.7zM360.3 111.5h3.7v3.7h-3.7zM361.2 110.7h3.7v3.7h-3.7zM362.3 109.8h3.7v3.7h-3.7zM363.4 108.9h3.7v3.7h-3.7zM366.1 106.7h3.7v3.7h-3.7zM368.5 104.7h3.7v3.7h-3.7zM371.1 102.6h3.7v3.7h-3.7zM373.5 100.6h3.7v3.7h-3.7zM376.1 98.5h3.7v3.7h-3.7zM377.8 97.1h3.7v3.7h-3.7zM379.4 95.8h3.7v3.7h-3.7zM480.1 13.8h3.7v3.7h-3.7zM478.7 14.1h3.7v3.7h-3.7zM476.4 15.9h3.7v3.7h-3.7zM475.6 16.1h3.7v3.7h-3.7zM475.7 16.4h3.7v3.7h-3.7zM476.4 16.5h3.7v3.7h-3.7zM476.1 16.7h3.7v3.7h-3.7zM476.1 16.9h3.7v3.7h-3.7zM474 17.1h3.7v3.7h-3.7zM475.5 17.2h3.7v3.7h-3.7zM474 17.4h3.7v3.7h-3.7zM474.9 17.6h3.7v3.7h-3.7zM473 17.8h3.7v3.7h-3.7zM473.9 18h3.7v3.7h-3.7zM473.1 18.3h3.7v3.7h-3.7zM474.3 18.5h3.7v3.7h-3.7zM473.3 18.6h3.7v3.7h-3.7zM473.9 18.8h3.7v3.7h-3.7zM472.5 19h3.7v3.7h-3.7zM473.7 19.2h3.7v3.7h-3.7zM472 19.4h3.7v3.7h-3.7zM473.3 19.6h3.7v3.7h-3.7zM471.5 19.8h3.7v3.7h-3.7zM470.9 20h3.7v3.7h-3.7zM472 20.2h3.7v3.7h-3.7zM470.9 20.4h3.7v3.7h-3.7zM470.9 20.6h3.7v3.7h-3.7zM469.8 20.7h3.7v3.7h-3.7zM470.3 20.9h3.7v3.7h-3.7zM470.4 21.1h3.7v3.7h-3.7zM469.6 21.3h3.7v3.7h-3.7zM470.2 21.4h3.7v3.7h-3.7zM468.5 21.6h3.7v3.7h-3.7zM470.1 21.8h3.7v3.7h-3.7zM469 22h3.7v3.7h-3.7zM470.1 22.1h3.7v3.7h-3.7zM468.6 22.3h3.7v3.7h-3.7zM468.2 22.5h3.7v3.7h-3.7zM468.1 22.7h3.7v3.7h-3.7zM468.3 22.9h3.7v3.7h-3.7zM468.3 23.1h3.7v3.7h-3.7zM467.3 23.3h3.7v3.7h-3.7zM466.8 23.5h3.7v3.7h-3.7zM467.5 23.7h3.7v3.7h-3.7zM467.5 23.9h3.7v3.7h-3.7zM465.5 24.1h3.7v3.7h-3.7zM465.7 24.2h3.7v3.7h-3.7zM465.8 24.4h3.7v3.7h-3.7zM467.2 24.6h3.7v3.7h-3.7zM466.7 24.8h3.7v3.7h-3.7zM466.2 25h3.7v3.7h-3.7zM465.8 25.1h3.7v3.7h-3.7zM464.4 25.3h3.7v3.7h-3.7zM465.8 25.5h3.7v3.7h-3.7zM464.5 25.6h3.7v3.7h-3.7zM464.1 25.8h3.7v3.7h-3.7zM465.6 26h3.7v3.7h-3.7zM463.2 26.2h3.7v3.7h-3.7zM465 26.3h3.7v3.7h-3.7zM463.9 26.5h3.7v3.7h-3.7zM462.9 26.7h3.7v3.7h-3.7zM463.5 26.8h3.7v3.7h-3.7zM462.5 27h3.7v3.7h-3.7zM463.1 27.2h3.7v3.7h-3.7zM462.2 27.4h3.7v3.7h-3.7zM461.7 27.6h3.7v3.7h-3.7zM463.5 27.7h3.7v3.7h-3.7zM461.7 27.9h3.7v3.7h-3.7zM462.6 28.1h3.7v3.7h-3.7zM461.6 28.3h3.7v3.7h-3.7zM461.9 28.4h3.7v3.7h-3.7zM460.3 28.6h3.7v3.7h-3.7zM460.3 28.8h3.7v3.7h-3.7zM459.6 29h3.7v3.7h-3.7zM461.3 29.2h3.7v3.7h-3.7zM460.7 29.3h3.7v3.7h-3.7zM459.3 29.5h3.7v3.7h-3.7zM460.5 29.7h3.7v3.7h-3.7zM460.1 29.9h3.7v3.7h-3.7zM460.6 30.1h3.7v3.7h-3.7zM459.4 30.2h3.7v3.7h-3.7zM459.7 30.4h3.7v3.7h-3.7zM459.3 30.6h3.7v3.7h-3.7zM459.2 30.8h3.7v3.7h-3.7zM458.4 31h3.7v3.7h-3.7zM457.9 31.2h3.7v3.7h-3.7zM458.5 31.3h3.7v3.7h-3.7zM458.6 31.5h3.7v3.7h-3.7zM456.6 31.7h3.7v3.7h-3.7zM456.4 31.9h3.7v3.7h-3.7zM457 32.1h3.7v3.7h-3.7zM458 32.3h3.7v3.7h-3.7zM456.4 32.5h3.7v3.7h-3.7zM455.2 32.6h3.7v3.7h-3.7zM456.7 32.8h3.7v3.7h-3.7zM456.5 33h3.7v3.7h-3.7zM456.9 33.2h3.7v3.7h-3.7zM455.6 33.4h3.7v3.7h-3.7zM456.4 33.6h3.7v3.7h-3.7zM454.5 33.8h3.7v3.7h-3.7zM455.5 33.9h3.7v3.7h-3.7zM454.7 34.1h3.7v3.7h-3.7zM453.5 34.3h3.7v3.7h-3.7zM453.9 34.5h3.7v3.7h-3.7zM454.8 34.7h3.7v3.7h-3.7zM454.4 34.9h3.7v3.7h-3.7zM453.2 35.1h3.7v3.7h-3.7zM454 35.3h3.7v3.7h-3.7zM453.6 35.4h3.7v3.7h-3.7zM453.4 35.6h3.7v3.7h-3.7zM452.8 35.8h3.7v3.7h-3.7zM452.5 36h3.7v3.7h-3.7zM451.5 36.2h3.7v3.7h-3.7zM451.8 36.4h3.7v3.7h-3.7zM451.7 36.5h3.7v3.7h-3.7zM450.9 36.7h3.7v3.7h-3.7zM451 36.9h3.7v3.7h-3.7zM451.1 37.1h3.7v3.7h-3.7zM450.9 37.3h3.7v3.7h-3.7zM451.3 37.4h3.7v3.7h-3.7zM449.6 37.6h3.7v3.7h-3.7zM449.9 37.8h3.7v3.7h-3.7zM450.1 38h3.7v3.7h-3.7zM449.5 38.1h3.7v3.7h-3.7zM449.7 38.3h3.7v3.7h-3.7zM449 38.5h3.7v3.7h-3.7zM449.9 38.6h3.7v3.7h-3.7zM448.7 38.8h3.7v3.7h-3.7zM447.9 39h3.7v3.7h-3.7zM448.9 39.2h3.7v3.7h-3.7zM449.3 39.4h3.7v3.7h-3.7zM446.7 39.6h3.7v3.7h-3.7zM447.6 39.8h3.7v3.7h-3.7zM447.5 40h3.7v3.7h-3.7zM448 40.2h3.7v3.7h-3.7zM448.1 40.3h3.7v3.7h-3.7zM446.7 40.5h3.7v3.7h-3.7zM445.5 40.7h3.7v3.7h-3.7zM446.9 40.9h3.7v3.7h-3.7zM446.9 41.1h3.7v3.7h-3.7zM446.2 41.3h3.7v3.7h-3.7zM445.8 41.4h3.7v3.7h-3.7zM444.9 41.6h3.7v3.7h-3.7zM446.4 41.9h3.7v3.7h-3.7zM444.1 42.1h3.7v3.7h-3.7zM443.6 42.3h3.7v3.7h-3.7zM445.1 42.5h3.7v3.7h-3.7zM444.4 42.7h3.7v3.7h-3.7zM444.5 42.9h3.7v3.7h-3.7zM444.1 43h3.7v3.7h-3.7zM444.8 43.2h3.7v3.7h-3.7zM444.4 43.4h3.7v3.7h-3.7zM442.8 43.6h3.7v3.7h-3.7zM443.7 43.7h3.7v3.7h-3.7zM441.9 43.9h3.7v3.7h-3.7zM441.3 44.1h3.7v3.7h-3.7zM443.1 44.3h3.7v3.7h-3.7zM441.8 44.4h3.7v3.7h-3.7zM440.7 44.6h3.7v3.7h-3.7zM441.6 44.8h3.7v3.7h-3.7zM440.9 45h3.7v3.7h-3.7zM441.5 45.2h3.7v3.7h-3.7zM440.9 45.4h3.7v3.7h-3.7zM440.1 45.6h3.7v3.7h-3.7zM439.9 45.8h3.7v3.7h-3.7zM440.8 46h3.7v3.7h-3.7zM439.3 46.2h3.7v3.7h-3.7zM439.9 46.3h3.7v3.7h-3.7zM438.9 46.5h3.7v3.7h-3.7zM439.6 46.8h3.7v3.7h-3.7zM440.2 47h3.7v3.7h-3.7zM439.1 47.2h3.7v3.7h-3.7zM439.3 47.4h3.7v3.7h-3.7zM438.6 47.5h3.7v3.7h-3.7zM437.4 47.8h3.7v3.7h-3.7zM437.5 48h3.7v3.7h-3.7zM437.6 48.2h3.7v3.7h-3.7zM437.6 48.4h3.7v3.7h-3.7zM436.6 48.6h3.7v3.7h-3.7zM437.1 48.9h3.7v3.7h-3.7zM435.9 49.1h3.7v3.7h-3.7zM436.2 49.3h3.7v3.7h-3.7zM436 49.5h3.7v3.7h-3.7zM434.9 49.7h3.7v3.7h-3.7zM436.2 49.9h3.7v3.7h-3.7zM435.2 50.1h3.7v3.7h-3.7zM435 50.4h3.7v3.7h-3.7zM434.6 50.6h3.7v3.7h-3.7zM433.2 50.8h3.7v3.7h-3.7zM433.1 51h3.7v3.7h-3.7zM433.2 51.2h3.7v3.7h-3.7zM434.2 51.5h3.7v3.7h-3.7zM432.9 51.7h3.7v3.7h-3.7zM433.5 51.9h3.7v3.7h-3.7zM432.1 52.1h3.7v3.7h-3.7zM432 52.3h3.7v3.7h-3.7zM432 52.5h3.7v3.7h-3.7zM432.9 52.7h3.7v3.7h-3.7zM430.7 52.9h3.7v3.7h-3.7zM431.5 53.1h3.7v3.7h-3.7zM431.5 53.4h3.7v3.7h-3.7zM431.1 53.5h3.7v3.7h-3.7zM430.7 53.8h3.7v3.7h-3.7zM431 54h3.7v3.7h-3.7zM430.4 54.2h3.7v3.7h-3.7zM429.1 54.5h3.7v3.7h-3.7zM430.1 54.7h3.7v3.7h-3.7zM428.9 54.9h3.7v3.7h-3.7zM428.9 55.1h3.7v3.7h-3.7zM429.9 55.3h3.7v3.7h-3.7zM429.8 55.5h3.7v3.7h-3.7zM429.5 55.7h3.7v3.7h-3.7zM428.4 55.9h3.7v3.7h-3.7zM427.3 56.2h3.7v3.7h-3.7zM427.1 56.3h3.7v3.7h-3.7zM428.6 56.5h3.7v3.7h-3.7zM427.3 56.8h3.7v3.7h-3.7zM425.7 57.1h3.7v3.7h-3.7zM427.6 57.3h3.7v3.7h-3.7zM426.6 57.5h3.7v3.7h-3.7zM426.8 57.8h3.7v3.7h-3.7zM425.9 58h3.7v3.7h-3.7zM424.2 58.2h3.7v3.7h-3.7zM424.6 58.4h3.7v3.7h-3.7zM424.7 58.6h3.7v3.7h-3.7zM424.4 58.9h3.7v3.7h-3.7zM425.3 59.1h3.7v3.7h-3.7zM423.5 59.4h3.7v3.7h-3.7zM423.7 59.6h3.7v3.7h-3.7zM423.4 59.8h3.7v3.7h-3.7zM423.2 60h3.7v3.7h-3.7zM422.3 60.1h3.7v3.7h-3.7zM421.8 60.4h3.7v3.7h-3.7zM421.2 60.6h3.7v3.7h-3.7zM422.2 61h3.7v3.7h-3.7zM421.5 61.2h3.7v3.7h-3.7zM421.6 61.4h3.7v3.7h-3.7zM420.5 61.6h3.7v3.7h-3.7zM421 61.8h3.7v3.7h-3.7zM420.1 62h3.7v3.7h-3.7zM419.8 62.2h3.7v3.7h-3.7zM420.4 62.5h3.7v3.7h-3.7zM420.3 62.7h3.7v3.7h-3.7zM420.1 62.9h3.7v3.7h-3.7zM419.3 63.2h3.7v3.7h-3.7zM418.8 63.4h3.7v3.7h-3.7zM419.8 63.6h3.7v3.7h-3.7zM419.5 63.8h3.7v3.7h-3.7zM417.9 64h3.7v3.7h-3.7zM417.2 64.3h3.7v3.7h-3.7zM418 64.5h3.7v3.7h-3.7zM417.7 64.7h3.7v3.7h-3.7zM416.6 64.8h3.7v3.7h-3.7zM418.2 65.1h3.7v3.7h-3.7zM415.5 65.3h3.7v3.7h-3.7zM415.8 65.5h3.7v3.7h-3.7zM416.2 65.9h3.7v3.7h-3.7zM416.3 66.2h3.7v3.7h-3.7zM413.8 66.7h3.7v3.7h-3.7zM414.3 67.1h3.7v3.7h-3.7zM415.1 67.5h3.7v3.7h-3.7zM414.7 67.8h3.7v3.7h-3.7zM412.9 68.3h3.7v3.7h-3.7zM412.9 68.5h3.7v3.7h-3.7zM411.8 68.9h3.7v3.7h-3.7zM412.3 69.2h3.7v3.7h-3.7zM410.8 69.5h3.7v3.7h-3.7zM410 69.8h3.7v3.7h-3.7zM409.9 70h3.7v3.7h-3.7zM410.5 70.4h3.7v3.7h-3.7zM409.1 70.8h3.7v3.7h-3.7zM410.6 71h3.7v3.7h-3.7zM410.1 71.5h3.7v3.7h-3.7zM409.2 72h3.7v3.7h-3.7zM408.8 72.2h3.7v3.7h-3.7zM408.8 72.5h3.7v3.7h-3.7zM407.8 72.8h3.7v3.7h-3.7zM408 73h3.7v3.7h-3.7zM407.1 73.4h3.7v3.7h-3.7zM407 73.7h3.7v3.7h-3.7zM405.4 74h3.7v3.7h-3.7zM405.4 74.2h3.7v3.7h-3.7zM404.4 74.8h3.7v3.7h-3.7zM404.7 75.7h3.7v3.7h-3.7zM403.5 76.4h3.7v3.7h-3.7zM401.9 77h3.7v3.7h-3.7zM401.5 77.2h3.7v3.7h-3.7zM401 77.8h3.7v3.7h-3.7zM401.8 78.1h3.7v3.7h-3.7zM400.5 78.5h3.7v3.7h-3.7zM399.7 79.1h3.7v3.7h-3.7zM398.4 79.9h3.7v3.7h-3.7zM398.2 80.4h3.7v3.7h-3.7zM399 80.8h3.7v3.7h-3.7zM397 81.1h3.7v3.7h-3.7zM396.4 81.8h3.7v3.7h-3.7zM397.1 82.3h3.7v3.7h-3.7zM396.1 82.6h3.7v3.7h-3.7zM394 83.2h3.7v3.7h-3.7zM394.8 83.9h3.7v3.7h-3.7zM392.3 84.6h3.7v3.7h-3.7zM392.7 85.3h3.7v3.7h-3.7zM390.5 85.7h3.7v3.7h-3.7zM389.6 86.9h3.7v3.7h-3.7zM389.6 88h3.7v3.7h-3.7zM387.8 88.6h3.7v3.7h-3.7zM386.1 89.9h3.7v3.7h-3.7zM385.7 90.7h3.7v3.7h-3.7zM384.1 92h3.7v3.7h-3.7zM382.8 92.8h3.7v3.7h-3.7zM381 94.1h3.7v3.7h-3.7zM382.2 94.5h3.7v3.7h-3.7z" stroke="#f00" stroke-width="1.15"/>
<path d="M291.9 172.8L351.6 123.1" stroke="#00f" stroke-width="1.25" stroke-dasharray="6.7 4.4"/>
<path d="M480.3 15.9L351.6 123.1" stroke="#00f" stroke-width="1.25" stroke-dasharray="5 2.7"/>
</g>
<text transform="translate(284.5 20.7) scale(1.04 1)" text-anchor="end">0</text>
<text transform="translate(287.5 97.3) scale(1.04 1)" text-anchor="end">-0.05</text>
<text transform="translate(290.2 175.5) scale(1.04 1)" text-anchor="end">-0.1</text>
<text transform="translate(294.4 192.3) scale(1.04 1)" text-anchor="middle">-0.1</text>
<text transform="translate(385.3 192.6) scale(1.04 1)" text-anchor="middle">-0.05</text>
<text transform="translate(476.4 192.2) scale(1.04 1)">0</text>
<text transform="translate(295.6 33.2) scale(0.93 1)">(b)</text>
<text transform="translate(366 216.4) scale(1.060 0.950)" font-size="18.5" font-family="'Liberation Serif', serif">Δ</text>
<text transform="translate(377.9 216.4) scale(1.250 0.950)" font-size="18.5" font-family="'Liberation Serif', serif">λ</text>
<text transform="translate(388.6 220.4) scale(1.02 1)" font-size="13.3">appr</text>
<text transform="translate(421.6 215.9) scale(1.05 1)">(%)</text>
<g transform="translate(262.3 76) rotate(-90)">
<text transform="translate(-.3 0) scale(0.986 1.050)" font-size="18.5" font-family="'Liberation Serif', serif">Δ</text>
<text transform="translate(11.1 0) scale(1.250 1.050)" font-size="18.5" font-family="'Liberation Serif', serif">λ</text>
<text transform="translate(22.3 3.8) scale(1 1.04)" font-size="13">real</text>
<text transform="translate(52 -3.2) scale(1 1.06)">(%)</text>
</g>
<g fill="none">
<path d="M60.8 339.7h3.8M62.7 337.8v3.8M67.1 334.2h3.8M69 332.3v3.8M70.9 332.2h3.8M72.8 330.3v3.8M91.5 319.1h3.8M93.4 317.2v3.8M95.6 316.6h3.8M97.5 314.7v3.8M100.6 313.3h3.8M102.5 311.4v3.8M210.2 241.6h3.8M212.1 239.7v3.8M209.1 241.9h3.8M211 240v3.8M207.9 242.1h3.8M209.8 240.2v3.8M208 242.3h3.8M209.9 240.4v3.8M207.8 242.5h3.8M209.7 240.6v3.8M207.9 242.7h3.8M209.8 240.8v3.8M208.2 242.9h3.8M210.1 241v3.8M206.7 243.2h3.8M208.6 241.3v3.8M206.7 243.4h3.8M208.6 241.5v3.8M206 243.7h3.8M207.9 241.8v3.8M205.9 243.9h3.8M207.8 242v3.8M205.2 244.1h3.8M207.1 242.2v3.8M205.4 244.3h3.8M207.3 242.4v3.8M205.5 244.5h3.8M207.4 242.6v3.8M204.3 244.8h3.8M206.2 242.9v3.8M204 245h3.8M205.9 243.1v3.8M203.9 245.2h3.8M205.8 243.3v3.8M202.8 245.4h3.8M204.7 243.5v3.8M204.1 245.7h3.8M206 243.8v3.8M202.1 245.9h3.8M204 244v3.8M202.3 246.1h3.8M204.2 244.2v3.8M201.7 246.3h3.8M203.6 244.4v3.8M202.7 246.5h3.8M204.6 244.6v3.8M201.3 246.7h3.8M203.2 244.8v3.8M201 247h3.8M202.9 245.1v3.8M201.8 247.2h3.8M203.7 245.3v3.8M200.5 247.4h3.8M202.4 245.5v3.8M199.8 247.6h3.8M201.7 245.7v3.8M199.9 247.9h3.8M201.8 246v3.8M199.7 248.1h3.8M201.6 246.2v3.8M198.8 248.3h3.8M200.7 246.4v3.8M198.8 248.5h3.8M200.7 246.6v3.8M198.5 248.7h3.8M200.4 246.8v3.8M198.7 248.9h3.8M200.6 247v3.8M198.4 249.1h3.8M200.3 247.2v3.8M198.1 249.3h3.8M200 247.4v3.8M197.2 249.5h3.8M199.1 247.6v3.8M197.5 249.7h3.8M199.4 247.8v3.8M196.6 250h3.8M198.5 248.1v3.8M197 250.2h3.8M198.9 248.3v3.8M196.3 250.4h3.8M198.2 248.5v3.8M195.5 250.6h3.8M197.4 248.7v3.8M196.1 250.8h3.8M198 248.9v3.8M194.3 251h3.8M196.2 249.1v3.8M194.2 251.2h3.8M196.1 249.3v3.8M194 251.4h3.8M195.9 249.5v3.8M194.1 251.7h3.8M196 249.8v3.8M193.1 251.9h3.8M195 250v3.8M192.8 252.1h3.8M194.7 250.2v3.8M192.2 252.3h3.8M194.1 250.4v3.8M192.9 252.5h3.8M194.8 250.6v3.8M192.1 252.7h3.8M194 250.8v3.8M193.1 252.9h3.8M195 251v3.8M192.3 253.1h3.8M194.2 251.2v3.8M190.9 253.4h3.8M192.8 251.5v3.8M191.9 253.6h3.8M193.8 251.7v3.8M191 253.8h3.8M192.9 251.9v3.8M191.2 254h3.8M193.1 252.1v3.8M189.7 254.2h3.8M191.6 252.3v3.8M190.6 254.4h3.8M192.5 252.5v3.8M190.2 254.6h3.8M192.1 252.7v3.8M189 254.9h3.8M190.9 253v3.8M188.5 255.1h3.8M190.4 253.2v3.8M188.4 255.3h3.8M190.3 253.4v3.8M188.5 255.5h3.8M190.4 253.6v3.8M188.9 255.7h3.8M190.8 253.8v3.8M188.6 255.9h3.8M190.5 254v3.8M188.2 256.1h3.8M190.1 254.2v3.8M186.9 256.4h3.8M188.8 254.5v3.8M186.5 256.6h3.8M188.4 254.7v3.8M186.6 256.8h3.8M188.5 254.9v3.8M185.9 257h3.8M187.8 255.1v3.8M185.5 257.2h3.8M187.4 255.3v3.8M185.2 257.5h3.8M187.1 255.6v3.8M185.5 257.7h3.8M187.4 255.8v3.8M184.7 257.9h3.8M186.6 256v3.8M184.5 258.1h3.8M186.4 256.2v3.8M183.9 258.4h3.8M185.8 256.5v3.8M183.6 258.6h3.8M185.5 256.7v3.8M183.2 258.8h3.8M185.1 256.9v3.8M183.7 259h3.8M185.6 257.1v3.8M182.8 259.2h3.8M184.7 257.3v3.8M183.2 259.4h3.8M185.1 257.5v3.8M182 259.6h3.8M183.9 257.7v3.8M182.3 259.8h3.8M184.2 257.9v3.8M180.6 260.1h3.8M182.5 258.2v3.8M180.9 260.3h3.8M182.8 258.4v3.8M180.7 260.5h3.8M182.6 258.6v3.8M180.1 260.7h3.8M182 258.8v3.8M180.1 260.9h3.8M182 259v3.8M179.3 261.1h3.8M181.2 259.2v3.8M179.4 261.3h3.8M181.3 259.4v3.8M178.8 261.5h3.8M180.7 259.6v3.8M178.9 261.8h3.8M180.8 259.9v3.8M178.3 262h3.8M180.2 260.1v3.8M177.7 262.2h3.8M179.6 260.3v3.8M177.6 262.4h3.8M179.5 260.5v3.8M177.6 262.6h3.8M179.5 260.7v3.8M176.5 262.8h3.8M178.4 260.9v3.8M176.9 263.1h3.8M178.8 261.2v3.8M177.1 263.3h3.8M179 261.4v3.8M176 263.6h3.8M177.9 261.7v3.8M176 263.8h3.8M177.9 261.9v3.8M175.8 264h3.8M177.7 262.1v3.8M174.7 264.2h3.8M176.6 262.3v3.8M175.5 264.4h3.8M177.4 262.5v3.8M175.4 264.7h3.8M177.3 262.8v3.8M173.5 264.9h3.8M175.4 263v3.8M174.7 265.1h3.8M176.6 263.2v3.8M173 265.3h3.8M174.9 263.4v3.8M173.9 265.5h3.8M175.8 263.6v3.8M171.9 265.8h3.8M173.8 263.9v3.8M173.1 266h3.8M175 264.1v3.8M172.2 266.2h3.8M174.1 264.3v3.8M171.1 266.4h3.8M173 264.5v3.8M171 266.6h3.8M172.9 264.7v3.8M170.6 266.8h3.8M172.5 264.9v3.8M170.4 267h3.8M172.3 265.1v3.8M170.7 267.3h3.8M172.6 265.4v3.8M170.1 267.5h3.8M172 265.6v3.8M168.9 267.7h3.8M170.8 265.8v3.8M169.4 267.9h3.8M171.3 266v3.8M169.5 268.1h3.8M171.4 266.2v3.8M168.9 268.3h3.8M170.8 266.4v3.8M169.4 268.6h3.8M171.3 266.7v3.8M167.3 268.8h3.8M169.2 266.9v3.8M168 269h3.8M169.9 267.1v3.8M167.5 269.3h3.8M169.4 267.4v3.8M167.5 269.6h3.8M169.4 267.7v3.8M166 269.8h3.8M167.9 267.9v3.8M165.7 270h3.8M167.6 268.1v3.8M166 270.2h3.8M167.9 268.3v3.8M165.8 270.4h3.8M167.7 268.5v3.8M164.5 270.6h3.8M166.4 268.7v3.8M165.3 270.9h3.8M167.2 269v3.8M164.7 271.1h3.8M166.6 269.2v3.8M164.7 271.4h3.8M166.6 269.5v3.8M163 271.6h3.8M164.9 269.7v3.8M163.8 271.9h3.8M165.7 270v3.8M162.7 272.1h3.8M164.6 270.2v3.8M162.6 272.3h3.8M164.5 270.4v3.8M162.9 272.6h3.8M164.8 270.7v3.8M162.9 272.9h3.8M164.8 271v3.8M161.7 273.1h3.8M163.6 271.2v3.8M161.2 273.4h3.8M163.1 271.5v3.8M161.6 273.7h3.8M163.5 271.8v3.8M159.9 273.9h3.8M161.8 272v3.8M159.9 274.3h3.8M161.8 272.4v3.8M159.3 274.5h3.8M161.2 272.6v3.8M158.6 274.8h3.8M160.5 272.9v3.8M158.9 275h3.8M160.8 273.1v3.8M159.3 275.3h3.8M161.2 273.4v3.8M158 275.6h3.8M159.9 273.7v3.8M157.9 275.8h3.8M159.8 273.9v3.8M157.2 276.1h3.8M159.1 274.2v3.8M157.5 276.3h3.8M159.4 274.4v3.8M156.5 276.6h3.8M158.4 274.7v3.8M155.6 276.8h3.8M157.5 274.9v3.8M155.8 277.1h3.8M157.7 275.2v3.8M156.1 277.3h3.8M158 275.4v3.8M154.7 277.7h3.8M156.6 275.8v3.8M154.9 278.1h3.8M156.8 276.2v3.8M153.8 278.3h3.8M155.7 276.4v3.8M154.3 278.6h3.8M156.2 276.7v3.8M153.2 278.8h3.8M155.1 276.9v3.8M152.8 279.2h3.8M154.7 277.3v3.8M152 279.4h3.8M153.9 277.5v3.8M152 279.8h3.8M153.9 277.9v3.8M151 280.1h3.8M152.9 278.2v3.8M150 280.3h3.8M151.9 278.4v3.8M150.4 280.7h3.8M152.3 278.8v3.8M149.1 281h3.8M151 279.1v3.8M149.8 281.5h3.8M151.7 279.6v3.8M148.9 281.9h3.8M150.8 280v3.8M148 282.2h3.8M149.9 280.3v3.8M147.8 282.5h3.8M149.7 280.6v3.8M146 282.9h3.8M147.9 281v3.8M147.5 283.1h3.8M149.4 281.2v3.8M145.7 283.4h3.8M147.6 281.5v3.8M145.8 283.9h3.8M147.7 282v3.8M145.4 284.5h3.8M147.3 282.6v3.8M142.8 285h3.8M144.7 283.1v3.8M142.8 285.4h3.8M144.7 283.5v3.8M142.3 286h3.8M144.2 284.1v3.8M141.6 286.5h3.8M143.5 284.6v3.8M139.9 286.9h3.8M141.8 285v3.8M139.3 287.6h3.8M141.2 285.7v3.8M140.2 287.9h3.8M142.1 286v3.8M138.6 288.1h3.8M140.5 286.2v3.8M138.9 288.4h3.8M140.8 286.5v3.8M137.1 288.9h3.8M139 287v3.8M136.8 289.2h3.8M138.7 287.3v3.8M136 289.5h3.8M137.9 287.6v3.8M136.4 289.9h3.8M138.3 288v3.8M136.2 290.4h3.8M138.1 288.5v3.8M134.9 290.9h3.8M136.8 289v3.8M133.9 291.4h3.8M135.8 289.5v3.8M133.7 291.7h3.8M135.6 289.8v3.8M132.5 292.6h3.8M134.4 290.7v3.8M130.9 293.4h3.8M132.8 291.5v3.8M130.7 293.8h3.8M132.6 291.9v3.8M129.9 294.7h3.8M131.8 292.8v3.8M129.4 295.1h3.8M131.3 293.2v3.8M127.9 295.3h3.8M129.8 293.4v3.8M126.1 296.2h3.8M128 294.3v3.8M127.1 296.6h3.8M129 294.7v3.8M126.5 296.8h3.8M128.4 294.9v3.8M125.9 297.2h3.8M127.8 295.3v3.8M124.8 297.7h3.8M126.7 295.8v3.8M123.9 298h3.8M125.8 296.1v3.8M124.1 298.3h3.8M126 296.4v3.8M122.8 299.3h3.8M124.7 297.4v3.8M122.2 299.6h3.8M124.1 297.7v3.8M120.9 299.7h3.8M122.8 297.8v3.8M121.3 300.2h3.8M123.2 298.3v3.8M119.2 301.1h3.8M121.1 299.2v3.8M118.7 301.4h3.8M120.6 299.5v3.8M118.9 301.6h3.8M120.8 299.7v3.8M116.9 302.6h3.8M118.8 300.7v3.8M117.9 302.7h3.8M119.8 300.8v3.8M116.4 303.3h3.8M118.3 301.4v3.8M114.2 304.6h3.8M116.1 302.7v3.8M113.4 305h3.8M115.3 303.1v3.8M113.3 305.2h3.8M115.2 303.3v3.8M112 305.9h3.8M113.9 304v3.8M111.7 306.4h3.8M113.6 304.5v3.8M110.9 307h3.8M112.8 305.1v3.8" stroke="#000" stroke-width="1.15"/>
<path d="M210.1 240l3.2 3.2M210.1 243.2l3.2 -3.2M207.9 240.7l3.2 3.2M207.9 243.9l3.2 -3.2M207.4 241.3l3.2 3.2M207.4 244.5l3.2 -3.2M206.6 242.1l3.2 3.2M206.6 245.3l3.2 -3.2M204.8 242.7l3.2 3.2M204.8 245.9l3.2 -3.2M204.7 243.4l3.2 3.2M204.7 246.6l3.2 -3.2M203.4 244.1l3.2 3.2M203.4 247.3l3.2 -3.2M202.5 244.7l3.2 3.2M202.5 247.9l3.2 -3.2M201.8 245.4l3.2 3.2M201.8 248.6l3.2 -3.2M200.2 246l3.2 3.2M200.2 249.2l3.2 -3.2M200.4 246.7l3.2 3.2M200.4 249.9l3.2 -3.2M199.1 247.3l3.2 3.2M199.1 250.5l3.2 -3.2M197.3 247.9l3.2 3.2M197.3 251.1l3.2 -3.2M197 248.6l3.2 3.2M197 251.8l3.2 -3.2M196.1 249.2l3.2 3.2M196.1 252.4l3.2 -3.2M194.4 249.8l3.2 3.2M194.4 253l3.2 -3.2M193.6 250.5l3.2 3.2M193.6 253.7l3.2 -3.2M193.2 251.1l3.2 3.2M193.2 254.3l3.2 -3.2M190.9 251.8l3.2 3.2M190.9 255l3.2 -3.2M190.1 252.4l3.2 3.2M190.1 255.6l3.2 -3.2M190.1 253l3.2 3.2M190.1 256.2l3.2 -3.2M189.3 253.7l3.2 3.2M189.3 256.9l3.2 -3.2M187.4 254.3l3.2 3.2M187.4 257.5l3.2 -3.2M187.5 255l3.2 3.2M187.5 258.2l3.2 -3.2M186.9 255.6l3.2 3.2M186.9 258.8l3.2 -3.2M185.1 256.3l3.2 3.2M185.1 259.5l3.2 -3.2M184 257l3.2 3.2M184 260.2l3.2 -3.2M183.1 257.6l3.2 3.2M183.1 260.8l3.2 -3.2M181.5 258.2l3.2 3.2M181.5 261.4l3.2 -3.2M181.4 258.9l3.2 3.2M181.4 262.1l3.2 -3.2M180.2 259.5l3.2 3.2M180.2 262.7l3.2 -3.2M179.6 260.2l3.2 3.2M179.6 263.4l3.2 -3.2M179 260.8l3.2 3.2M179 264l3.2 -3.2M177.2 261.5l3.2 3.2M177.2 264.7l3.2 -3.2M176.1 262.2l3.2 3.2M176.1 265.4l3.2 -3.2M175.3 262.8l3.2 3.2M175.3 266l3.2 -3.2M175 263.5l3.2 3.2M175 266.7l3.2 -3.2M172.3 264.2l3.2 3.2M172.3 267.4l3.2 -3.2M172.1 264.8l3.2 3.2M172.1 268l3.2 -3.2M170.8 265.4l3.2 3.2M170.8 268.6l3.2 -3.2M170.3 266.1l3.2 3.2M170.3 269.3l3.2 -3.2M169.7 266.7l3.2 3.2M169.7 269.9l3.2 -3.2M168.2 267.4l3.2 3.2M168.2 270.6l3.2 -3.2M167.5 268.2l3.2 3.2M167.5 271.4l3.2 -3.2M166.2 268.8l3.2 3.2M166.2 272l3.2 -3.2M164.6 269.5l3.2 3.2M164.6 272.7l3.2 -3.2M163.5 270.3l3.2 3.2M163.5 273.5l3.2 -3.2M162 271l3.2 3.2M162 274.2l3.2 -3.2M161.6 271.8l3.2 3.2M161.6 275l3.2 -3.2M160 272.7l3.2 3.2M160 275.9l3.2 -3.2M159.6 273.4l3.2 3.2M159.6 276.6l3.2 -3.2M158.4 274.2l3.2 3.2M158.4 277.4l3.2 -3.2M156.3 275l3.2 3.2M156.3 278.2l3.2 -3.2M155 275.7l3.2 3.2M155 278.9l3.2 -3.2M154.5 276.7l3.2 3.2M154.5 279.9l3.2 -3.2M152.3 277.6l3.2 3.2M152.3 280.8l3.2 -3.2M151.6 278.5l3.2 3.2M151.6 281.7l3.2 -3.2M150.4 279.4l3.2 3.2M150.4 282.6l3.2 -3.2M148 280.6l3.2 3.2M148 283.8l3.2 -3.2M147.8 281.5l3.2 3.2M147.8 284.7l3.2 -3.2M144.4 282.9l3.2 3.2M144.4 286.1l3.2 -3.2M142.7 284.4l3.2 3.2M142.7 287.6l3.2 -3.2M139.9 286l3.2 3.2M139.9 289.2l3.2 -3.2M138 286.8l3.2 3.2M138 290l3.2 -3.2M137.1 287.9l3.2 3.2M137.1 291.1l3.2 -3.2M135 289.3l3.2 3.2M135 292.5l3.2 -3.2M132.9 291l3.2 3.2M132.9 294.2l3.2 -3.2M129.2 293.1l3.2 3.2M129.2 296.3l3.2 -3.2M126.7 294.6l3.2 3.2M126.7 297.8l3.2 -3.2M125.3 295.6l3.2 3.2M125.3 298.8l3.2 -3.2M123.7 296.7l3.2 3.2M123.7 299.9l3.2 -3.2M122.2 298.1l3.2 3.2M122.2 301.3l3.2 -3.2M119.1 299.8l3.2 3.2M119.1 303l3.2 -3.2M117.9 301.1l3.2 3.2M117.9 304.3l3.2 -3.2M114.2 303.4l3.2 3.2M114.2 306.6l3.2 -3.2M111.2 304.8l3.2 3.2M111.2 308l3.2 -3.2" stroke="#000" stroke-width="1.15"/>
<path d="M90.6 337.9h3.6v3.6h-3.6zM97.4 332.4h3.6v3.6h-3.6zM99.9 330.4h3.6v3.6h-3.6zM116.2 317.3h3.6v3.6h-3.6zM119.3 314.8h3.6v3.6h-3.6zM123.3 311.5h3.6v3.6h-3.6zM212.6 239.8h3.6v3.6h-3.6zM211.2 240.1h3.6v3.6h-3.6zM211.6 240.3h3.6v3.6h-3.6zM211 240.5h3.6v3.6h-3.6zM211 240.7h3.6v3.6h-3.6zM211.2 240.9h3.6v3.6h-3.6zM210.5 241.1h3.6v3.6h-3.6zM210.2 241.4h3.6v3.6h-3.6zM210.4 241.6h3.6v3.6h-3.6zM209.4 241.9h3.6v3.6h-3.6zM209 242.1h3.6v3.6h-3.6zM209.4 242.3h3.6v3.6h-3.6zM209 242.5h3.6v3.6h-3.6zM208 242.7h3.6v3.6h-3.6zM208.3 243h3.6v3.6h-3.6zM208.3 243.2h3.6v3.6h-3.6zM207.7 243.4h3.6v3.6h-3.6zM207.3 243.6h3.6v3.6h-3.6zM207.2 243.9h3.6v3.6h-3.6zM207 244.1h3.6v3.6h-3.6zM206.4 244.3h3.6v3.6h-3.6zM206.6 244.5h3.6v3.6h-3.6zM205.5 244.7h3.6v3.6h-3.6zM205.8 244.9h3.6v3.6h-3.6zM206.1 245.2h3.6v3.6h-3.6zM204.9 245.4h3.6v3.6h-3.6zM205 245.6h3.6v3.6h-3.6zM204.1 245.8h3.6v3.6h-3.6zM204.1 246.1h3.6v3.6h-3.6zM203.8 246.3h3.6v3.6h-3.6zM204 246.5h3.6v3.6h-3.6zM203.5 246.7h3.6v3.6h-3.6zM204 246.9h3.6v3.6h-3.6zM202.8 247.1h3.6v3.6h-3.6zM202.8 247.3h3.6v3.6h-3.6zM202.7 247.5h3.6v3.6h-3.6zM202.6 247.7h3.6v3.6h-3.6zM202.4 247.9h3.6v3.6h-3.6zM201.3 248.2h3.6v3.6h-3.6zM202.2 248.4h3.6v3.6h-3.6zM201.2 248.6h3.6v3.6h-3.6zM200.8 248.8h3.6v3.6h-3.6zM200.2 249h3.6v3.6h-3.6zM200.4 249.2h3.6v3.6h-3.6zM199.7 249.4h3.6v3.6h-3.6zM200.1 249.6h3.6v3.6h-3.6zM199.5 249.9h3.6v3.6h-3.6zM199.6 250.1h3.6v3.6h-3.6zM198.9 250.3h3.6v3.6h-3.6zM199 250.5h3.6v3.6h-3.6zM199.3 250.7h3.6v3.6h-3.6zM198.8 250.9h3.6v3.6h-3.6zM198.2 251.1h3.6v3.6h-3.6zM197.6 251.3h3.6v3.6h-3.6zM198.1 251.6h3.6v3.6h-3.6zM196.7 251.8h3.6v3.6h-3.6zM196.6 252h3.6v3.6h-3.6zM197.3 252.2h3.6v3.6h-3.6zM196.4 252.4h3.6v3.6h-3.6zM196.8 252.6h3.6v3.6h-3.6zM196.2 252.8h3.6v3.6h-3.6zM196.3 253.1h3.6v3.6h-3.6zM196.1 253.3h3.6v3.6h-3.6zM195.4 253.5h3.6v3.6h-3.6zM194.7 253.7h3.6v3.6h-3.6zM194.9 253.9h3.6v3.6h-3.6zM194.9 254.1h3.6v3.6h-3.6zM194.2 254.3h3.6v3.6h-3.6zM193.3 254.6h3.6v3.6h-3.6zM193.5 254.8h3.6v3.6h-3.6zM193.2 255h3.6v3.6h-3.6zM193.1 255.2h3.6v3.6h-3.6zM192.7 255.4h3.6v3.6h-3.6zM192.9 255.7h3.6v3.6h-3.6zM191.8 255.9h3.6v3.6h-3.6zM192.2 256.1h3.6v3.6h-3.6zM191.1 256.3h3.6v3.6h-3.6zM190.8 256.6h3.6v3.6h-3.6zM190.8 256.8h3.6v3.6h-3.6zM190.6 257h3.6v3.6h-3.6zM190.3 257.2h3.6v3.6h-3.6zM190.1 257.4h3.6v3.6h-3.6zM190.3 257.6h3.6v3.6h-3.6zM190 257.8h3.6v3.6h-3.6zM189.6 258h3.6v3.6h-3.6zM189.4 258.3h3.6v3.6h-3.6zM188.8 258.5h3.6v3.6h-3.6zM188.4 258.7h3.6v3.6h-3.6zM188 258.9h3.6v3.6h-3.6zM188.1 259.1h3.6v3.6h-3.6zM187.6 259.3h3.6v3.6h-3.6zM187.6 259.5h3.6v3.6h-3.6zM187.7 259.7h3.6v3.6h-3.6zM187.4 260h3.6v3.6h-3.6zM187.4 260.2h3.6v3.6h-3.6zM186.3 260.4h3.6v3.6h-3.6zM185.8 260.6h3.6v3.6h-3.6zM185.8 260.8h3.6v3.6h-3.6zM186.5 261h3.6v3.6h-3.6zM185.8 261.3h3.6v3.6h-3.6zM185.1 261.5h3.6v3.6h-3.6zM185.4 261.8h3.6v3.6h-3.6zM184.5 262h3.6v3.6h-3.6zM185 262.2h3.6v3.6h-3.6zM184 262.4h3.6v3.6h-3.6zM183.7 262.6h3.6v3.6h-3.6zM183.9 262.9h3.6v3.6h-3.6zM182.9 263.1h3.6v3.6h-3.6zM183 263.3h3.6v3.6h-3.6zM183.4 263.5h3.6v3.6h-3.6zM182.7 263.7h3.6v3.6h-3.6zM181.9 264h3.6v3.6h-3.6zM181.9 264.2h3.6v3.6h-3.6zM181.7 264.4h3.6v3.6h-3.6zM181.2 264.6h3.6v3.6h-3.6zM181.3 264.8h3.6v3.6h-3.6zM181.4 265h3.6v3.6h-3.6zM180.7 265.2h3.6v3.6h-3.6zM180.7 265.5h3.6v3.6h-3.6zM180.2 265.7h3.6v3.6h-3.6zM179.9 265.9h3.6v3.6h-3.6zM179.3 266.1h3.6v3.6h-3.6zM179.7 266.3h3.6v3.6h-3.6zM179.5 266.5h3.6v3.6h-3.6zM178.6 266.8h3.6v3.6h-3.6zM178.2 267h3.6v3.6h-3.6zM178.4 267.2h3.6v3.6h-3.6zM177.9 267.5h3.6v3.6h-3.6zM177.9 267.8h3.6v3.6h-3.6zM177.5 268h3.6v3.6h-3.6zM177 268.2h3.6v3.6h-3.6zM176.3 268.4h3.6v3.6h-3.6zM176.7 268.6h3.6v3.6h-3.6zM176.2 268.8h3.6v3.6h-3.6zM175.5 269.1h3.6v3.6h-3.6zM175.1 269.3h3.6v3.6h-3.6zM174.7 269.6h3.6v3.6h-3.6zM175.2 269.8h3.6v3.6h-3.6zM174.5 270.1h3.6v3.6h-3.6zM173.8 270.3h3.6v3.6h-3.6zM173.8 270.5h3.6v3.6h-3.6zM173.5 270.8h3.6v3.6h-3.6zM173.4 271.1h3.6v3.6h-3.6zM173.1 271.3h3.6v3.6h-3.6zM172.6 271.6h3.6v3.6h-3.6zM172.7 271.9h3.6v3.6h-3.6zM172.5 272.1h3.6v3.6h-3.6zM171.6 272.5h3.6v3.6h-3.6zM172 272.7h3.6v3.6h-3.6zM171 273h3.6v3.6h-3.6zM170.5 273.2h3.6v3.6h-3.6zM170.5 273.5h3.6v3.6h-3.6zM169.5 273.8h3.6v3.6h-3.6zM169.7 274h3.6v3.6h-3.6zM169.1 274.3h3.6v3.6h-3.6zM169 274.5h3.6v3.6h-3.6zM168.9 274.8h3.6v3.6h-3.6zM168 275h3.6v3.6h-3.6zM168.4 275.3h3.6v3.6h-3.6zM168 275.5h3.6v3.6h-3.6zM167.4 275.9h3.6v3.6h-3.6zM167.3 276.3h3.6v3.6h-3.6zM166.8 276.5h3.6v3.6h-3.6zM166.2 276.8h3.6v3.6h-3.6zM165.7 277h3.6v3.6h-3.6zM165.9 277.4h3.6v3.6h-3.6zM165.6 277.6h3.6v3.6h-3.6zM164.3 278h3.6v3.6h-3.6zM164.3 278.3h3.6v3.6h-3.6zM163.8 278.5h3.6v3.6h-3.6zM164 278.9h3.6v3.6h-3.6zM163.2 279.2h3.6v3.6h-3.6zM162.3 279.7h3.6v3.6h-3.6zM162.8 280.1h3.6v3.6h-3.6zM162 280.4h3.6v3.6h-3.6zM161.5 280.7h3.6v3.6h-3.6zM161.1 281.1h3.6v3.6h-3.6zM160.7 281.3h3.6v3.6h-3.6zM160.4 281.6h3.6v3.6h-3.6zM160.1 282.1h3.6v3.6h-3.6zM159.2 282.7h3.6v3.6h-3.6zM158.2 283.2h3.6v3.6h-3.6zM157.9 283.6h3.6v3.6h-3.6zM157.7 284.2h3.6v3.6h-3.6zM156.3 284.7h3.6v3.6h-3.6zM155.6 285.1h3.6v3.6h-3.6zM155.3 285.8h3.6v3.6h-3.6zM154.4 286.1h3.6v3.6h-3.6zM155.1 286.3h3.6v3.6h-3.6zM154.4 286.6h3.6v3.6h-3.6zM153.8 287.1h3.6v3.6h-3.6zM153.3 287.4h3.6v3.6h-3.6zM153.4 287.7h3.6v3.6h-3.6zM151.9 288.1h3.6v3.6h-3.6zM151.7 288.6h3.6v3.6h-3.6zM150.5 289.1h3.6v3.6h-3.6zM150.9 289.6h3.6v3.6h-3.6zM150.1 289.9h3.6v3.6h-3.6zM149.6 290.8h3.6v3.6h-3.6zM147.9 291.6h3.6v3.6h-3.6zM147.1 292h3.6v3.6h-3.6zM146.1 292.9h3.6v3.6h-3.6zM146.2 293.3h3.6v3.6h-3.6zM145.4 293.5h3.6v3.6h-3.6zM144.6 294.4h3.6v3.6h-3.6zM143.8 294.8h3.6v3.6h-3.6zM143.6 295h3.6v3.6h-3.6zM143.1 295.4h3.6v3.6h-3.6zM143.2 295.9h3.6v3.6h-3.6zM141.9 296.2h3.6v3.6h-3.6zM142 296.5h3.6v3.6h-3.6zM141 297.5h3.6v3.6h-3.6zM140 297.8h3.6v3.6h-3.6zM139.7 297.9h3.6v3.6h-3.6zM140.1 298.4h3.6v3.6h-3.6zM139.1 299.3h3.6v3.6h-3.6zM138 299.6h3.6v3.6h-3.6zM137.5 299.8h3.6v3.6h-3.6zM136.9 300.8h3.6v3.6h-3.6zM136.5 300.9h3.6v3.6h-3.6zM135.4 301.5h3.6v3.6h-3.6zM134 302.8h3.6v3.6h-3.6zM133 303.2h3.6v3.6h-3.6zM133.1 303.4h3.6v3.6h-3.6zM132.1 304.1h3.6v3.6h-3.6zM131.4 304.6h3.6v3.6h-3.6zM131.3 305.2h3.6v3.6h-3.6z" stroke="#f00" stroke-width="1.15"/>
<path d="M41.9 385.4L126.3 314.9" stroke="#00f" stroke-width="1.25" stroke-dasharray="7 5.2"/>
<path d="M226.3 231.4L126.3 314.9" stroke="#00f" stroke-width="1.25" stroke-dasharray="5 2.9" stroke-dashoffset="5"/>
</g>
<rect x="41.9" y="231.4" width="184.4" height="154" fill="none" stroke="#000" stroke-width="1.4"/>
<path d="M134.1 385.4v-2.2M134.1 231.4v2.2M41.9 308.4h2.2M226.3 308.4h-2.2" stroke="#000" stroke-width="1" fill="none"/>
<text transform="translate(35.6 237.3) scale(1.04 1)" text-anchor="end">0</text>
<text transform="translate(32 314.5) scale(1.04 1)" text-anchor="end">-0.1</text>
<text transform="translate(32 391.8) scale(1.04 1)" text-anchor="end">-0.2</text>
<text transform="translate(35.2 406.5) scale(1.04 1)" text-anchor="middle">-0.2</text>
<text transform="translate(127.3 406.7) scale(1.04 1)" text-anchor="middle">-0.1</text>
<text transform="translate(226.4 406.3) scale(1.04 1)" text-anchor="middle">0</text>
<text transform="translate(45.2 248.7) scale(0.93 1)">(c)</text>
<text transform="translate(104.9 426.4) scale(1.060 0.950)" font-size="18.5" font-family="'Liberation Serif', serif">Δ</text>
<text transform="translate(116.8 426.4) scale(1.250 0.950)" font-size="18.5" font-family="'Liberation Serif', serif">λ</text>
<text transform="translate(127.5 430.4) scale(1.02 1)" font-size="13.3">appr</text>
<text transform="translate(160.5 425.9) scale(1.05 1)">(%)</text>
<g transform="translate(13.6 294.2) rotate(-90)">
<text transform="translate(-.3 0) scale(0.986 1.050)" font-size="18.5" font-family="'Liberation Serif', serif">Δ</text>
<text transform="translate(11.1 0) scale(1.250 1.050)" font-size="18.5" font-family="'Liberation Serif', serif">λ</text>
<text transform="translate(22.3 3.8) scale(1 1.04)" font-size="13">real</text>
<text transform="translate(56.7 1.4) scale(1 1.06)">(%)</text>
</g>
<rect x="292.2" y="231.4" width="188.8" height="157.7" fill="none" stroke="#000" stroke-width="1.4"/>
<path d="M323.6 389.1v-2.2M323.6 231.4v2.2M394.8 389.1v-2.2M394.8 231.4v2.2M465.9 389.1v-2.2M465.9 231.4v2.2M292.2 302.3h2.2M481 302.3h-2.2M292.2 373.2h2.2M481 373.2h-2.2" stroke="#000" stroke-width="1" fill="none"/>
<g fill="none">
<path d="M307.9 389.1L465.9 231.4" stroke="#00f" stroke-width="1.25" stroke-dasharray="5 3"/>
<path d="M305.9 297h3.8M307.8 295.1v3.8M311.2 295h3.8M313.1 293.1v3.8M351.3 278.4h3.8M353.2 276.5v3.8M352 278.1h3.8M353.9 276.2v3.8M357.5 275.9h3.8M359.4 274v3.8M360.3 274.8h3.8M362.2 272.9v3.8M362.3 274h3.8M364.2 272.1v3.8M364.3 273.2h3.8M366.2 271.3v3.8M366.3 272.4h3.8M368.2 270.5v3.8M368.1 271.7h3.8M370 269.8v3.8M369.6 271.1h3.8M371.5 269.2v3.8M371.4 270.4h3.8M373.3 268.5v3.8M372.9 269.8h3.8M374.8 267.9v3.8M462.1 232.7h3.8M464 230.8v3.8M463 233h3.8M464.9 231.1v3.8M459.5 233.2h3.8M461.4 231.3v3.8M460.1 233.4h3.8M462 231.5v3.8M459.6 233.5h3.8M461.5 231.6v3.8M461.4 233.7h3.8M463.3 231.8v3.8M460.7 234h3.8M462.6 232.1v3.8M459.4 234.2h3.8M461.3 232.3v3.8M459 234.4h3.8M460.9 232.5v3.8M457.7 234.6h3.8M459.6 232.7v3.8M457.5 234.8h3.8M459.4 232.9v3.8M457.2 235.1h3.8M459.1 233.2v3.8M455.6 235.2h3.8M457.5 233.3v3.8M458.6 235.4h3.8M460.5 233.5v3.8M457.3 235.6h3.8M459.2 233.7v3.8M457.9 235.8h3.8M459.8 233.9v3.8M457 236h3.8M458.9 234.1v3.8M455.9 236.2h3.8M457.8 234.3v3.8M455.9 236.4h3.8M457.8 234.5v3.8M452.8 236.6h3.8M454.7 234.7v3.8M453.1 236.8h3.8M455 234.9v3.8M454.7 237h3.8M456.6 235.1v3.8M452.9 237.2h3.8M454.8 235.3v3.8M451.2 237.4h3.8M453.1 235.5v3.8M452.5 237.6h3.8M454.4 235.7v3.8M450.7 237.8h3.8M452.6 235.9v3.8M451.7 238h3.8M453.6 236.1v3.8M453.1 238.2h3.8M455 236.3v3.8M449.7 238.3h3.8M451.6 236.4v3.8M450 238.5h3.8M451.9 236.6v3.8M450.8 238.7h3.8M452.7 236.8v3.8M449.7 238.9h3.8M451.6 237v3.8M449.5 239.1h3.8M451.4 237.2v3.8M447.9 239.3h3.8M449.8 237.4v3.8M448.1 239.5h3.8M450 237.6v3.8M446.1 239.7h3.8M448 237.8v3.8M447.4 239.8h3.8M449.3 237.9v3.8M448.7 240h3.8M450.6 238.1v3.8M445.5 240.2h3.8M447.4 238.3v3.8M446.1 240.4h3.8M448 238.5v3.8M446.7 240.6h3.8M448.6 238.7v3.8M446.9 240.8h3.8M448.8 238.9v3.8M446.3 241h3.8M448.2 239.1v3.8M443.5 241.2h3.8M445.4 239.3v3.8M443.6 241.4h3.8M445.5 239.5v3.8M445.7 241.6h3.8M447.6 239.7v3.8M442.7 241.8h3.8M444.6 239.9v3.8M443.1 242h3.8M445 240.1v3.8M441.2 242.2h3.8M443.1 240.3v3.8M441 242.4h3.8M442.9 240.5v3.8M439.3 242.5h3.8M441.2 240.6v3.8M440.2 242.8h3.8M442.1 240.9v3.8M438.4 242.9h3.8M440.3 241v3.8M438.7 243.1h3.8M440.6 241.2v3.8M438.3 243.3h3.8M440.2 241.4v3.8M440.8 243.5h3.8M442.7 241.6v3.8M439.6 243.7h3.8M441.5 241.8v3.8M438.7 243.9h3.8M440.6 242v3.8M437 244.1h3.8M438.9 242.2v3.8M435.4 244.3h3.8M437.3 242.4v3.8M437.4 244.5h3.8M439.3 242.6v3.8M435.2 244.7h3.8M437.1 242.8v3.8M435.6 244.9h3.8M437.5 243v3.8M436.6 245.1h3.8M438.5 243.2v3.8M434.7 245.3h3.8M436.6 243.4v3.8M434.4 245.5h3.8M436.3 243.6v3.8M432.6 245.7h3.8M434.5 243.8v3.8M434.9 245.9h3.8M436.8 244v3.8M433.7 246h3.8M435.6 244.1v3.8M433.5 246.2h3.8M435.4 244.3v3.8M434.3 246.4h3.8M436.2 244.5v3.8M429.4 246.6h3.8M431.3 244.7v3.8M431.1 246.8h3.8M433 244.9v3.8M431.5 247h3.8M433.4 245.1v3.8M430.5 247.2h3.8M432.4 245.3v3.8M430.1 247.4h3.8M432 245.5v3.8M429.8 247.6h3.8M431.7 245.7v3.8M426.6 247.8h3.8M428.5 245.9v3.8M428.1 248h3.8M430 246.1v3.8M429.5 248.2h3.8M431.4 246.3v3.8M427.2 248.4h3.8M429.1 246.5v3.8M426.5 248.6h3.8M428.4 246.7v3.8M427.5 248.8h3.8M429.4 246.9v3.8M423.4 248.9h3.8M425.3 247v3.8M425.9 249.1h3.8M427.8 247.2v3.8M427.1 249.3h3.8M429 247.4v3.8M424 249.5h3.8M425.9 247.6v3.8M422.7 249.7h3.8M424.6 247.8v3.8M424.2 249.9h3.8M426.1 248v3.8M422.2 250.1h3.8M424.1 248.2v3.8M421.2 250.3h3.8M423.1 248.4v3.8M422 250.6h3.8M423.9 248.7v3.8M418.7 250.8h3.8M420.6 248.9v3.8M421.6 251h3.8M423.5 249.1v3.8M418.3 251.2h3.8M420.2 249.3v3.8M418.8 251.4h3.8M420.7 249.5v3.8M420.3 251.6h3.8M422.2 249.7v3.8M418.5 251.8h3.8M420.4 249.9v3.8M418.5 252h3.8M420.4 250.1v3.8M419.7 252.2h3.8M421.6 250.3v3.8M419.3 252.5h3.8M421.2 250.6v3.8M419.1 252.7h3.8M421 250.8v3.8M415.1 252.9h3.8M417 251v3.8M416.9 253.1h3.8M418.8 251.2v3.8M412.3 253.3h3.8M414.2 251.4v3.8M415.7 253.5h3.8M417.6 251.6v3.8M416 253.7h3.8M417.9 251.8v3.8M412.2 253.9h3.8M414.1 252v3.8M413.7 254.1h3.8M415.6 252.2v3.8M413.7 254.3h3.8M415.6 252.4v3.8M411.6 254.5h3.8M413.5 252.6v3.8M410.3 254.7h3.8M412.2 252.8v3.8M413.3 254.9h3.8M415.2 253v3.8M408.2 255.1h3.8M410.1 253.2v3.8M410 255.3h3.8M411.9 253.4v3.8M410.7 255.6h3.8M412.6 253.7v3.8M408.9 255.8h3.8M410.8 253.9v3.8M410.6 256h3.8M412.5 254.1v3.8M409.8 256.3h3.8M411.7 254.4v3.8M407.5 256.5h3.8M409.4 254.6v3.8M409.1 256.7h3.8M411 254.8v3.8M406.8 256.9h3.8M408.7 255v3.8M402.9 257.2h3.8M404.8 255.3v3.8M403.9 257.4h3.8M405.8 255.5v3.8M404.4 257.6h3.8M406.3 255.7v3.8M403.8 257.8h3.8M405.7 255.9v3.8M400.2 258h3.8M402.1 256.1v3.8M405.3 258.2h3.8M407.2 256.3v3.8M399 258.5h3.8M400.9 256.6v3.8M399.2 258.7h3.8M401.1 256.8v3.8M401.5 258.9h3.8M403.4 257v3.8M400.5 259.1h3.8M402.4 257.2v3.8M402.2 259.3h3.8M404.1 257.4v3.8M399.2 259.6h3.8M401.1 257.7v3.8M398.8 259.9h3.8M400.7 258v3.8M398.7 260.2h3.8M400.6 258.3v3.8M395.5 260.4h3.8M397.4 258.5v3.8M394 260.6h3.8M395.9 258.7v3.8M395 260.8h3.8M396.9 258.9v3.8M396.9 261.1h3.8M398.8 259.2v3.8M393.9 261.3h3.8M395.8 259.4v3.8M396.1 261.5h3.8M398 259.6v3.8M392.3 261.8h3.8M394.2 259.9v3.8M394.1 262h3.8M396 260.1v3.8M392.2 262.2h3.8M394.1 260.3v3.8M392.7 262.6h3.8M394.6 260.7v3.8M390.1 263h3.8M392 261.1v3.8M389.6 263.4h3.8M391.5 261.5v3.8M387.6 263.6h3.8M389.5 261.7v3.8M389.9 264h3.8M391.8 262.1v3.8M386.7 264.3h3.8M388.6 262.4v3.8M387.1 264.6h3.8M389 262.7v3.8M386.3 265h3.8M388.2 263.1v3.8M382.8 265.2h3.8M384.7 263.3v3.8M382.1 265.5h3.8M384 263.6v3.8M382.9 265.8h3.8M384.8 263.9v3.8M384.8 266.1h3.8M386.7 264.2v3.8M379.1 266.5h3.8M381 264.6v3.8M378.5 266.8h3.8M380.4 264.9v3.8M377.7 267.1h3.8M379.6 265.2v3.8M378.1 267.4h3.8M380 265.5v3.8M376.2 267.6h3.8M378.1 265.7v3.8M375.3 268.2h3.8M377.2 266.3v3.8M376.8 268.7h3.8M378.7 266.8v3.8M372.8 269h3.8M374.7 267.1v3.8M373.5 269.6h3.8M375.4 267.7v3.8M370.2 269.9h3.8M372.1 268v3.8M370.7 270.5h3.8M372.6 268.6v3.8M371.4 270.8h3.8M373.3 268.9v3.8M365.2 271.4h3.8M367.1 269.5v3.8" stroke="#000" stroke-width="1.15"/>
<path d="M462.2 231.1l3.2 3.2M462.2 234.3l3.2 -3.2M461.3 231.8l3.2 3.2M461.3 235l3.2 -3.2M459.9 232.4l3.2 3.2M459.9 235.6l3.2 -3.2M459 233l3.2 3.2M459 236.2l3.2 -3.2M458 233.6l3.2 3.2M458 236.8l3.2 -3.2M455.1 234.2l3.2 3.2M455.1 237.4l3.2 -3.2M455.1 234.8l3.2 3.2M455.1 238l3.2 -3.2M454.7 235.4l3.2 3.2M454.7 238.6l3.2 -3.2M454.3 236l3.2 3.2M454.3 239.2l3.2 -3.2M450.1 236.6l3.2 3.2M450.1 239.8l3.2 -3.2M449.8 237.1l3.2 3.2M449.8 240.3l3.2 -3.2M447.6 237.7l3.2 3.2M447.6 240.9l3.2 -3.2M447.9 238.2l3.2 3.2M447.9 241.4l3.2 -3.2M445.4 238.8l3.2 3.2M445.4 242l3.2 -3.2M444.1 239.4l3.2 3.2M444.1 242.6l3.2 -3.2M444.9 240l3.2 3.2M444.9 243.2l3.2 -3.2M444.7 240.6l3.2 3.2M444.7 243.8l3.2 -3.2M439.1 241.2l3.2 3.2M439.1 244.4l3.2 -3.2M442 241.7l3.2 3.2M442 244.9l3.2 -3.2M437.3 242.3l3.2 3.2M437.3 245.5l3.2 -3.2M438 242.9l3.2 3.2M438 246.1l3.2 -3.2M436.1 243.5l3.2 3.2M436.1 246.7l3.2 -3.2M435.9 244.1l3.2 3.2M435.9 247.3l3.2 -3.2M432.6 244.6l3.2 3.2M432.6 247.8l3.2 -3.2M430.2 245.2l3.2 3.2M430.2 248.4l3.2 -3.2M429.8 245.8l3.2 3.2M429.8 249l3.2 -3.2M429.7 246.4l3.2 3.2M429.7 249.6l3.2 -3.2M425.8 247l3.2 3.2M425.8 250.2l3.2 -3.2M426.3 247.5l3.2 3.2M426.3 250.7l3.2 -3.2M424.2 248.1l3.2 3.2M424.2 251.3l3.2 -3.2M422.9 248.7l3.2 3.2M422.9 251.9l3.2 -3.2M420.9 249.4l3.2 3.2M420.9 252.6l3.2 -3.2M420.4 250l3.2 3.2M420.4 253.2l3.2 -3.2M419.1 250.6l3.2 3.2M419.1 253.8l3.2 -3.2M415.8 251.3l3.2 3.2M415.8 254.5l3.2 -3.2M414.2 251.9l3.2 3.2M414.2 255.1l3.2 -3.2M410.6 252.5l3.2 3.2M410.6 255.7l3.2 -3.2M410.3 253.1l3.2 3.2M410.3 256.3l3.2 -3.2M407.5 253.7l3.2 3.2M407.5 256.9l3.2 -3.2M409.4 254.4l3.2 3.2M409.4 257.6l3.2 -3.2M404.7 255.1l3.2 3.2M404.7 258.3l3.2 -3.2M403.6 255.8l3.2 3.2M403.6 259l3.2 -3.2M404.2 256.4l3.2 3.2M404.2 259.6l3.2 -3.2M403.2 257.1l3.2 3.2M403.2 260.3l3.2 -3.2M401.9 257.7l3.2 3.2M401.9 260.9l3.2 -3.2M396.2 258.6l3.2 3.2M396.2 261.8l3.2 -3.2M396.6 259.2l3.2 3.2M396.6 262.4l3.2 -3.2M396.1 259.9l3.2 3.2M396.1 263.1l3.2 -3.2M390.9 260.6l3.2 3.2M390.9 263.8l3.2 -3.2M389.1 261.8l3.2 3.2M389.1 265l3.2 -3.2M384.7 262.7l3.2 3.2M384.7 265.9l3.2 -3.2M383.6 263.6l3.2 3.2M383.6 266.8l3.2 -3.2M384 264.5l3.2 3.2M384 267.7l3.2 -3.2M380.2 265.5l3.2 3.2M380.2 268.7l3.2 -3.2M376.5 266.6l3.2 3.2M376.5 269.8l3.2 -3.2M372.7 268l3.2 3.2M372.7 271.2l3.2 -3.2M373.8 269.2l3.2 3.2M373.8 272.4l3.2 -3.2" stroke="#000" stroke-width="1.15"/>
<path d="M397.8 295.2h3.6v3.6h-3.6zM399.5 293.2h3.6v3.6h-3.6zM416.3 276.6h3.6v3.6h-3.6zM416.6 276.3h3.6v3.6h-3.6zM418.8 274.1h3.6v3.6h-3.6zM420 273h3.6v3.6h-3.6zM420.8 272.2h3.6v3.6h-3.6zM421.6 271.4h3.6v3.6h-3.6zM422.4 270.6h3.6v3.6h-3.6zM423.1 269.9h3.6v3.6h-3.6zM423.7 269.3h3.6v3.6h-3.6zM424.4 268.6h3.6v3.6h-3.6zM425 268h3.6v3.6h-3.6zM463.1 230.9h3.6v3.6h-3.6zM462 231.2h3.6v3.6h-3.6zM463 231.4h3.6v3.6h-3.6zM461.9 231.6h3.6v3.6h-3.6zM461.8 231.7h3.6v3.6h-3.6zM461.5 231.9h3.6v3.6h-3.6zM461.2 232.2h3.6v3.6h-3.6zM461.5 232.4h3.6v3.6h-3.6zM460.5 232.6h3.6v3.6h-3.6zM460.8 232.8h3.6v3.6h-3.6zM460.5 233h3.6v3.6h-3.6zM461.1 233.3h3.6v3.6h-3.6zM460.3 233.4h3.6v3.6h-3.6zM460.2 233.6h3.6v3.6h-3.6zM460 233.8h3.6v3.6h-3.6zM459.8 234h3.6v3.6h-3.6zM459.4 234.2h3.6v3.6h-3.6zM458.5 234.4h3.6v3.6h-3.6zM459.2 234.6h3.6v3.6h-3.6zM458.7 234.8h3.6v3.6h-3.6zM458.9 235h3.6v3.6h-3.6zM458.5 235.2h3.6v3.6h-3.6zM458 235.4h3.6v3.6h-3.6zM457.6 235.6h3.6v3.6h-3.6zM457.4 235.8h3.6v3.6h-3.6zM457.7 236h3.6v3.6h-3.6zM457.4 236.2h3.6v3.6h-3.6zM456.9 236.4h3.6v3.6h-3.6zM456.9 236.5h3.6v3.6h-3.6zM457 236.7h3.6v3.6h-3.6zM456.4 236.9h3.6v3.6h-3.6zM456.4 237.1h3.6v3.6h-3.6zM456 237.3h3.6v3.6h-3.6zM455.4 237.5h3.6v3.6h-3.6zM455.9 237.7h3.6v3.6h-3.6zM455.7 237.9h3.6v3.6h-3.6zM455.8 238h3.6v3.6h-3.6zM455.8 238.2h3.6v3.6h-3.6zM454.8 238.4h3.6v3.6h-3.6zM455.2 238.6h3.6v3.6h-3.6zM454.8 238.8h3.6v3.6h-3.6zM454.6 239h3.6v3.6h-3.6zM454.6 239.2h3.6v3.6h-3.6zM454.5 239.4h3.6v3.6h-3.6zM453.4 239.6h3.6v3.6h-3.6zM454.3 239.8h3.6v3.6h-3.6zM453.5 240h3.6v3.6h-3.6zM453.1 240.2h3.6v3.6h-3.6zM452.9 240.4h3.6v3.6h-3.6zM452.9 240.6h3.6v3.6h-3.6zM452.3 240.7h3.6v3.6h-3.6zM453 241h3.6v3.6h-3.6zM452.5 241.1h3.6v3.6h-3.6zM451.8 241.3h3.6v3.6h-3.6zM452.3 241.5h3.6v3.6h-3.6zM451.9 241.7h3.6v3.6h-3.6zM451.6 241.9h3.6v3.6h-3.6zM451.8 242.1h3.6v3.6h-3.6zM451.1 242.3h3.6v3.6h-3.6zM450.9 242.5h3.6v3.6h-3.6zM451 242.7h3.6v3.6h-3.6zM449.9 242.9h3.6v3.6h-3.6zM449.9 243.1h3.6v3.6h-3.6zM450.4 243.3h3.6v3.6h-3.6zM450.4 243.5h3.6v3.6h-3.6zM449.1 243.7h3.6v3.6h-3.6zM449.6 243.9h3.6v3.6h-3.6zM449.1 244.1h3.6v3.6h-3.6zM449.1 244.2h3.6v3.6h-3.6zM449.3 244.4h3.6v3.6h-3.6zM449.4 244.6h3.6v3.6h-3.6zM449.3 244.8h3.6v3.6h-3.6zM448.8 245h3.6v3.6h-3.6zM448.5 245.2h3.6v3.6h-3.6zM448 245.4h3.6v3.6h-3.6zM447.1 245.6h3.6v3.6h-3.6zM447.8 245.8h3.6v3.6h-3.6zM446.9 246h3.6v3.6h-3.6zM446.8 246.2h3.6v3.6h-3.6zM447.1 246.4h3.6v3.6h-3.6zM446.2 246.6h3.6v3.6h-3.6zM447.3 246.8h3.6v3.6h-3.6zM446.7 247h3.6v3.6h-3.6zM446.4 247.1h3.6v3.6h-3.6zM446.3 247.3h3.6v3.6h-3.6zM446 247.5h3.6v3.6h-3.6zM445.7 247.7h3.6v3.6h-3.6zM445.7 247.9h3.6v3.6h-3.6zM445 248.1h3.6v3.6h-3.6zM445.2 248.3h3.6v3.6h-3.6zM444.9 248.5h3.6v3.6h-3.6zM444.9 248.8h3.6v3.6h-3.6zM443.9 249h3.6v3.6h-3.6zM444.2 249.2h3.6v3.6h-3.6zM443.9 249.4h3.6v3.6h-3.6zM444 249.6h3.6v3.6h-3.6zM443.8 249.8h3.6v3.6h-3.6zM443.4 250h3.6v3.6h-3.6zM443.3 250.2h3.6v3.6h-3.6zM443.1 250.4h3.6v3.6h-3.6zM443.2 250.7h3.6v3.6h-3.6zM442.6 250.9h3.6v3.6h-3.6zM442.5 251.1h3.6v3.6h-3.6zM441.7 251.3h3.6v3.6h-3.6zM441.8 251.5h3.6v3.6h-3.6zM441.9 251.7h3.6v3.6h-3.6zM441.9 251.9h3.6v3.6h-3.6zM440.8 252.1h3.6v3.6h-3.6zM441 252.3h3.6v3.6h-3.6zM440.7 252.5h3.6v3.6h-3.6zM440.6 252.7h3.6v3.6h-3.6zM440.2 252.9h3.6v3.6h-3.6zM440.1 253.1h3.6v3.6h-3.6zM440 253.3h3.6v3.6h-3.6zM439.8 253.5h3.6v3.6h-3.6zM439.9 253.8h3.6v3.6h-3.6zM438.9 254h3.6v3.6h-3.6zM438.7 254.2h3.6v3.6h-3.6zM439.1 254.5h3.6v3.6h-3.6zM438.8 254.7h3.6v3.6h-3.6zM438.3 254.9h3.6v3.6h-3.6zM437.6 255.1h3.6v3.6h-3.6zM438.3 255.4h3.6v3.6h-3.6zM437.2 255.6h3.6v3.6h-3.6zM437.9 255.8h3.6v3.6h-3.6zM437.4 256h3.6v3.6h-3.6zM437 256.2h3.6v3.6h-3.6zM436.8 256.4h3.6v3.6h-3.6zM436.9 256.7h3.6v3.6h-3.6zM436.4 256.9h3.6v3.6h-3.6zM435.5 257.1h3.6v3.6h-3.6zM435.7 257.3h3.6v3.6h-3.6zM435 257.5h3.6v3.6h-3.6zM435.6 257.8h3.6v3.6h-3.6zM435.5 258.1h3.6v3.6h-3.6zM435.3 258.4h3.6v3.6h-3.6zM434.1 258.6h3.6v3.6h-3.6zM435.1 258.8h3.6v3.6h-3.6zM434.9 259h3.6v3.6h-3.6zM433.9 259.3h3.6v3.6h-3.6zM433 259.5h3.6v3.6h-3.6zM433.1 259.7h3.6v3.6h-3.6zM433.6 260h3.6v3.6h-3.6zM433.7 260.2h3.6v3.6h-3.6zM432.5 260.4h3.6v3.6h-3.6zM431.7 260.8h3.6v3.6h-3.6zM431.6 261.2h3.6v3.6h-3.6zM432.3 261.6h3.6v3.6h-3.6zM431.3 261.8h3.6v3.6h-3.6zM430.4 262.2h3.6v3.6h-3.6zM429.9 262.5h3.6v3.6h-3.6zM430.6 262.8h3.6v3.6h-3.6zM430.3 263.2h3.6v3.6h-3.6zM429.5 263.4h3.6v3.6h-3.6zM429.3 263.7h3.6v3.6h-3.6zM429.1 264h3.6v3.6h-3.6zM428.7 264.3h3.6v3.6h-3.6zM428.2 264.7h3.6v3.6h-3.6zM427.9 265h3.6v3.6h-3.6zM427.5 265.3h3.6v3.6h-3.6zM428 265.6h3.6v3.6h-3.6zM427.4 265.8h3.6v3.6h-3.6zM427.1 266.4h3.6v3.6h-3.6zM426.9 266.9h3.6v3.6h-3.6zM425.2 267.2h3.6v3.6h-3.6zM425.3 267.8h3.6v3.6h-3.6zM425.3 268.1h3.6v3.6h-3.6zM424.3 268.7h3.6v3.6h-3.6zM423.8 269h3.6v3.6h-3.6zM423.5 269.6h3.6v3.6h-3.6z" stroke="#f00" stroke-width="1.15"/>
<path d="M384.6 297a2.1 2.1 0 1 0 4.3 0a2.1 2.1 0 1 0 -4.3 0M387.6 295a2.1 2.1 0 1 0 4.3 0a2.1 2.1 0 1 0 -4.3 0M407.8 278.4a2.1 2.1 0 1 0 4.3 0a2.1 2.1 0 1 0 -4.3 0M408.2 278.1a2.1 2.1 0 1 0 4.3 0a2.1 2.1 0 1 0 -4.3 0M410.8 275.9a2.1 2.1 0 1 0 4.3 0a2.1 2.1 0 1 0 -4.3 0M412.1 274.8a2.1 2.1 0 1 0 4.3 0a2.1 2.1 0 1 0 -4.3 0M413.1 274a2.1 2.1 0 1 0 4.3 0a2.1 2.1 0 1 0 -4.3 0M414 273.2a2.1 2.1 0 1 0 4.3 0a2.1 2.1 0 1 0 -4.3 0M415 272.4a2.1 2.1 0 1 0 4.3 0a2.1 2.1 0 1 0 -4.3 0M415.8 271.7a2.1 2.1 0 1 0 4.3 0a2.1 2.1 0 1 0 -4.3 0M416.5 271.1a2.1 2.1 0 1 0 4.3 0a2.1 2.1 0 1 0 -4.3 0M417.3 270.4a2.1 2.1 0 1 0 4.3 0a2.1 2.1 0 1 0 -4.3 0M418.1 269.8a2.1 2.1 0 1 0 4.3 0a2.1 2.1 0 1 0 -4.3 0M461.9 232.7a2.1 2.1 0 1 0 4.3 0a2.1 2.1 0 1 0 -4.3 0M461.4 233a2.1 2.1 0 1 0 4.3 0a2.1 2.1 0 1 0 -4.3 0M461.5 233.2a2.1 2.1 0 1 0 4.3 0a2.1 2.1 0 1 0 -4.3 0M461.4 233.4a2.1 2.1 0 1 0 4.3 0a2.1 2.1 0 1 0 -4.3 0M461.2 233.5a2.1 2.1 0 1 0 4.3 0a2.1 2.1 0 1 0 -4.3 0M461.5 233.7a2.1 2.1 0 1 0 4.3 0a2.1 2.1 0 1 0 -4.3 0M460.7 234a2.1 2.1 0 1 0 4.3 0a2.1 2.1 0 1 0 -4.3 0M460.2 234.2a2.1 2.1 0 1 0 4.3 0a2.1 2.1 0 1 0 -4.3 0M461.2 234.4a2.1 2.1 0 1 0 4.3 0a2.1 2.1 0 1 0 -4.3 0M459.8 234.6a2.1 2.1 0 1 0 4.3 0a2.1 2.1 0 1 0 -4.3 0M459.5 234.8a2.1 2.1 0 1 0 4.3 0a2.1 2.1 0 1 0 -4.3 0M459.3 235.1a2.1 2.1 0 1 0 4.3 0a2.1 2.1 0 1 0 -4.3 0M458.8 235.2a2.1 2.1 0 1 0 4.3 0a2.1 2.1 0 1 0 -4.3 0M458 235.4a2.1 2.1 0 1 0 4.3 0a2.1 2.1 0 1 0 -4.3 0M458.8 235.6a2.1 2.1 0 1 0 4.3 0a2.1 2.1 0 1 0 -4.3 0M459.4 235.8a2.1 2.1 0 1 0 4.3 0a2.1 2.1 0 1 0 -4.3 0M457.2 236a2.1 2.1 0 1 0 4.3 0a2.1 2.1 0 1 0 -4.3 0M457.5 236.2a2.1 2.1 0 1 0 4.3 0a2.1 2.1 0 1 0 -4.3 0M458.1 236.4a2.1 2.1 0 1 0 4.3 0a2.1 2.1 0 1 0 -4.3 0M457.1 236.6a2.1 2.1 0 1 0 4.3 0a2.1 2.1 0 1 0 -4.3 0M457.6 236.8a2.1 2.1 0 1 0 4.3 0a2.1 2.1 0 1 0 -4.3 0M457 237a2.1 2.1 0 1 0 4.3 0a2.1 2.1 0 1 0 -4.3 0M456.1 237.2a2.1 2.1 0 1 0 4.3 0a2.1 2.1 0 1 0 -4.3 0M456.5 237.4a2.1 2.1 0 1 0 4.3 0a2.1 2.1 0 1 0 -4.3 0M456 237.6a2.1 2.1 0 1 0 4.3 0a2.1 2.1 0 1 0 -4.3 0M456.5 237.8a2.1 2.1 0 1 0 4.3 0a2.1 2.1 0 1 0 -4.3 0M454.8 238a2.1 2.1 0 1 0 4.3 0a2.1 2.1 0 1 0 -4.3 0M456 238.2a2.1 2.1 0 1 0 4.3 0a2.1 2.1 0 1 0 -4.3 0M456.4 238.3a2.1 2.1 0 1 0 4.3 0a2.1 2.1 0 1 0 -4.3 0M455.4 238.5a2.1 2.1 0 1 0 4.3 0a2.1 2.1 0 1 0 -4.3 0M455.2 238.7a2.1 2.1 0 1 0 4.3 0a2.1 2.1 0 1 0 -4.3 0M454.5 238.9a2.1 2.1 0 1 0 4.3 0a2.1 2.1 0 1 0 -4.3 0M454.8 239.1a2.1 2.1 0 1 0 4.3 0a2.1 2.1 0 1 0 -4.3 0M454.3 239.3a2.1 2.1 0 1 0 4.3 0a2.1 2.1 0 1 0 -4.3 0M453.2 239.5a2.1 2.1 0 1 0 4.3 0a2.1 2.1 0 1 0 -4.3 0M453.1 239.7a2.1 2.1 0 1 0 4.3 0a2.1 2.1 0 1 0 -4.3 0M452.5 239.8a2.1 2.1 0 1 0 4.3 0a2.1 2.1 0 1 0 -4.3 0M453.8 240a2.1 2.1 0 1 0 4.3 0a2.1 2.1 0 1 0 -4.3 0M453.4 240.2a2.1 2.1 0 1 0 4.3 0a2.1 2.1 0 1 0 -4.3 0M453.8 240.4a2.1 2.1 0 1 0 4.3 0a2.1 2.1 0 1 0 -4.3 0M453 240.6a2.1 2.1 0 1 0 4.3 0a2.1 2.1 0 1 0 -4.3 0M453.1 240.8a2.1 2.1 0 1 0 4.3 0a2.1 2.1 0 1 0 -4.3 0M451.3 241a2.1 2.1 0 1 0 4.3 0a2.1 2.1 0 1 0 -4.3 0M450.8 241.2a2.1 2.1 0 1 0 4.3 0a2.1 2.1 0 1 0 -4.3 0M451.4 241.4a2.1 2.1 0 1 0 4.3 0a2.1 2.1 0 1 0 -4.3 0M451.4 241.6a2.1 2.1 0 1 0 4.3 0a2.1 2.1 0 1 0 -4.3 0M451.7 241.8a2.1 2.1 0 1 0 4.3 0a2.1 2.1 0 1 0 -4.3 0M451.1 242a2.1 2.1 0 1 0 4.3 0a2.1 2.1 0 1 0 -4.3 0M450.8 242.2a2.1 2.1 0 1 0 4.3 0a2.1 2.1 0 1 0 -4.3 0M450.7 242.4a2.1 2.1 0 1 0 4.3 0a2.1 2.1 0 1 0 -4.3 0M450.7 242.5a2.1 2.1 0 1 0 4.3 0a2.1 2.1 0 1 0 -4.3 0M450.4 242.8a2.1 2.1 0 1 0 4.3 0a2.1 2.1 0 1 0 -4.3 0M450.3 242.9a2.1 2.1 0 1 0 4.3 0a2.1 2.1 0 1 0 -4.3 0M449.4 243.1a2.1 2.1 0 1 0 4.3 0a2.1 2.1 0 1 0 -4.3 0M449.5 243.3a2.1 2.1 0 1 0 4.3 0a2.1 2.1 0 1 0 -4.3 0M448.1 243.5a2.1 2.1 0 1 0 4.3 0a2.1 2.1 0 1 0 -4.3 0M448.2 243.7a2.1 2.1 0 1 0 4.3 0a2.1 2.1 0 1 0 -4.3 0M448.6 243.9a2.1 2.1 0 1 0 4.3 0a2.1 2.1 0 1 0 -4.3 0M449 244.1a2.1 2.1 0 1 0 4.3 0a2.1 2.1 0 1 0 -4.3 0M447.8 244.3a2.1 2.1 0 1 0 4.3 0a2.1 2.1 0 1 0 -4.3 0M447 244.5a2.1 2.1 0 1 0 4.3 0a2.1 2.1 0 1 0 -4.3 0M448.7 244.7a2.1 2.1 0 1 0 4.3 0a2.1 2.1 0 1 0 -4.3 0M447 244.9a2.1 2.1 0 1 0 4.3 0a2.1 2.1 0 1 0 -4.3 0M446 245.1a2.1 2.1 0 1 0 4.3 0a2.1 2.1 0 1 0 -4.3 0M446.4 245.3a2.1 2.1 0 1 0 4.3 0a2.1 2.1 0 1 0 -4.3 0M446 245.5a2.1 2.1 0 1 0 4.3 0a2.1 2.1 0 1 0 -4.3 0M445.3 245.7a2.1 2.1 0 1 0 4.3 0a2.1 2.1 0 1 0 -4.3 0M446.2 245.9a2.1 2.1 0 1 0 4.3 0a2.1 2.1 0 1 0 -4.3 0M447.8 246a2.1 2.1 0 1 0 4.3 0a2.1 2.1 0 1 0 -4.3 0M445.4 246.2a2.1 2.1 0 1 0 4.3 0a2.1 2.1 0 1 0 -4.3 0M445.1 246.4a2.1 2.1 0 1 0 4.3 0a2.1 2.1 0 1 0 -4.3 0M446.6 246.6a2.1 2.1 0 1 0 4.3 0a2.1 2.1 0 1 0 -4.3 0M445.5 246.8a2.1 2.1 0 1 0 4.3 0a2.1 2.1 0 1 0 -4.3 0M445 247a2.1 2.1 0 1 0 4.3 0a2.1 2.1 0 1 0 -4.3 0M446.1 247.2a2.1 2.1 0 1 0 4.3 0a2.1 2.1 0 1 0 -4.3 0M443.6 247.4a2.1 2.1 0 1 0 4.3 0a2.1 2.1 0 1 0 -4.3 0M444.4 247.6a2.1 2.1 0 1 0 4.3 0a2.1 2.1 0 1 0 -4.3 0M444.7 247.8a2.1 2.1 0 1 0 4.3 0a2.1 2.1 0 1 0 -4.3 0M444.2 248a2.1 2.1 0 1 0 4.3 0a2.1 2.1 0 1 0 -4.3 0M442.7 248.2a2.1 2.1 0 1 0 4.3 0a2.1 2.1 0 1 0 -4.3 0M442.7 248.4a2.1 2.1 0 1 0 4.3 0a2.1 2.1 0 1 0 -4.3 0M444.9 248.6a2.1 2.1 0 1 0 4.3 0a2.1 2.1 0 1 0 -4.3 0M443 248.8a2.1 2.1 0 1 0 4.3 0a2.1 2.1 0 1 0 -4.3 0M442.6 248.9a2.1 2.1 0 1 0 4.3 0a2.1 2.1 0 1 0 -4.3 0M443.7 249.1a2.1 2.1 0 1 0 4.3 0a2.1 2.1 0 1 0 -4.3 0M440.8 249.3a2.1 2.1 0 1 0 4.3 0a2.1 2.1 0 1 0 -4.3 0M442.1 249.5a2.1 2.1 0 1 0 4.3 0a2.1 2.1 0 1 0 -4.3 0M440.3 249.7a2.1 2.1 0 1 0 4.3 0a2.1 2.1 0 1 0 -4.3 0M443 249.9a2.1 2.1 0 1 0 4.3 0a2.1 2.1 0 1 0 -4.3 0M440.5 250.1a2.1 2.1 0 1 0 4.3 0a2.1 2.1 0 1 0 -4.3 0M441.3 250.3a2.1 2.1 0 1 0 4.3 0a2.1 2.1 0 1 0 -4.3 0M440 250.6a2.1 2.1 0 1 0 4.3 0a2.1 2.1 0 1 0 -4.3 0M440.8 250.8a2.1 2.1 0 1 0 4.3 0a2.1 2.1 0 1 0 -4.3 0M440.7 251a2.1 2.1 0 1 0 4.3 0a2.1 2.1 0 1 0 -4.3 0M440.2 251.2a2.1 2.1 0 1 0 4.3 0a2.1 2.1 0 1 0 -4.3 0M439.6 251.4a2.1 2.1 0 1 0 4.3 0a2.1 2.1 0 1 0 -4.3 0M440 251.6a2.1 2.1 0 1 0 4.3 0a2.1 2.1 0 1 0 -4.3 0M439.2 251.8a2.1 2.1 0 1 0 4.3 0a2.1 2.1 0 1 0 -4.3 0M438.7 252a2.1 2.1 0 1 0 4.3 0a2.1 2.1 0 1 0 -4.3 0M439.6 252.2a2.1 2.1 0 1 0 4.3 0a2.1 2.1 0 1 0 -4.3 0M439.5 252.5a2.1 2.1 0 1 0 4.3 0a2.1 2.1 0 1 0 -4.3 0M437 252.7a2.1 2.1 0 1 0 4.3 0a2.1 2.1 0 1 0 -4.3 0M437.1 252.9a2.1 2.1 0 1 0 4.3 0a2.1 2.1 0 1 0 -4.3 0M437.1 253.1a2.1 2.1 0 1 0 4.3 0a2.1 2.1 0 1 0 -4.3 0M438 253.3a2.1 2.1 0 1 0 4.3 0a2.1 2.1 0 1 0 -4.3 0M436 253.5a2.1 2.1 0 1 0 4.3 0a2.1 2.1 0 1 0 -4.3 0M438.9 253.7a2.1 2.1 0 1 0 4.3 0a2.1 2.1 0 1 0 -4.3 0M437 253.9a2.1 2.1 0 1 0 4.3 0a2.1 2.1 0 1 0 -4.3 0M436.9 254.1a2.1 2.1 0 1 0 4.3 0a2.1 2.1 0 1 0 -4.3 0M437.5 254.3a2.1 2.1 0 1 0 4.3 0a2.1 2.1 0 1 0 -4.3 0M435.5 254.5a2.1 2.1 0 1 0 4.3 0a2.1 2.1 0 1 0 -4.3 0M436.4 254.7a2.1 2.1 0 1 0 4.3 0a2.1 2.1 0 1 0 -4.3 0M436.3 254.9a2.1 2.1 0 1 0 4.3 0a2.1 2.1 0 1 0 -4.3 0M437 255.1a2.1 2.1 0 1 0 4.3 0a2.1 2.1 0 1 0 -4.3 0M434.1 255.3a2.1 2.1 0 1 0 4.3 0a2.1 2.1 0 1 0 -4.3 0M436.5 255.6a2.1 2.1 0 1 0 4.3 0a2.1 2.1 0 1 0 -4.3 0M435.4 255.8a2.1 2.1 0 1 0 4.3 0a2.1 2.1 0 1 0 -4.3 0M434.7 256a2.1 2.1 0 1 0 4.3 0a2.1 2.1 0 1 0 -4.3 0M435.3 256.3a2.1 2.1 0 1 0 4.3 0a2.1 2.1 0 1 0 -4.3 0M433.6 256.5a2.1 2.1 0 1 0 4.3 0a2.1 2.1 0 1 0 -4.3 0M433.4 256.7a2.1 2.1 0 1 0 4.3 0a2.1 2.1 0 1 0 -4.3 0M434.3 256.9a2.1 2.1 0 1 0 4.3 0a2.1 2.1 0 1 0 -4.3 0M432.7 257.2a2.1 2.1 0 1 0 4.3 0a2.1 2.1 0 1 0 -4.3 0M434.1 257.4a2.1 2.1 0 1 0 4.3 0a2.1 2.1 0 1 0 -4.3 0M434.2 257.6a2.1 2.1 0 1 0 4.3 0a2.1 2.1 0 1 0 -4.3 0M432.6 257.8a2.1 2.1 0 1 0 4.3 0a2.1 2.1 0 1 0 -4.3 0M432.3 258a2.1 2.1 0 1 0 4.3 0a2.1 2.1 0 1 0 -4.3 0M431.1 258.2a2.1 2.1 0 1 0 4.3 0a2.1 2.1 0 1 0 -4.3 0M430.5 258.5a2.1 2.1 0 1 0 4.3 0a2.1 2.1 0 1 0 -4.3 0M433 258.7a2.1 2.1 0 1 0 4.3 0a2.1 2.1 0 1 0 -4.3 0M429.9 258.9a2.1 2.1 0 1 0 4.3 0a2.1 2.1 0 1 0 -4.3 0M430.9 259.1a2.1 2.1 0 1 0 4.3 0a2.1 2.1 0 1 0 -4.3 0M430.8 259.3a2.1 2.1 0 1 0 4.3 0a2.1 2.1 0 1 0 -4.3 0M429.1 259.6a2.1 2.1 0 1 0 4.3 0a2.1 2.1 0 1 0 -4.3 0M429.1 259.9a2.1 2.1 0 1 0 4.3 0a2.1 2.1 0 1 0 -4.3 0M428.7 260.2a2.1 2.1 0 1 0 4.3 0a2.1 2.1 0 1 0 -4.3 0M431.3 260.4a2.1 2.1 0 1 0 4.3 0a2.1 2.1 0 1 0 -4.3 0M429.5 260.6a2.1 2.1 0 1 0 4.3 0a2.1 2.1 0 1 0 -4.3 0M430.5 260.8a2.1 2.1 0 1 0 4.3 0a2.1 2.1 0 1 0 -4.3 0M430.5 261.1a2.1 2.1 0 1 0 4.3 0a2.1 2.1 0 1 0 -4.3 0M429.4 261.3a2.1 2.1 0 1 0 4.3 0a2.1 2.1 0 1 0 -4.3 0M429.5 261.5a2.1 2.1 0 1 0 4.3 0a2.1 2.1 0 1 0 -4.3 0M427.1 261.8a2.1 2.1 0 1 0 4.3 0a2.1 2.1 0 1 0 -4.3 0M426.5 262a2.1 2.1 0 1 0 4.3 0a2.1 2.1 0 1 0 -4.3 0M428.9 262.2a2.1 2.1 0 1 0 4.3 0a2.1 2.1 0 1 0 -4.3 0M428.5 262.6a2.1 2.1 0 1 0 4.3 0a2.1 2.1 0 1 0 -4.3 0M424.8 263a2.1 2.1 0 1 0 4.3 0a2.1 2.1 0 1 0 -4.3 0M427.2 263.4a2.1 2.1 0 1 0 4.3 0a2.1 2.1 0 1 0 -4.3 0M425.8 263.6a2.1 2.1 0 1 0 4.3 0a2.1 2.1 0 1 0 -4.3 0M426 264a2.1 2.1 0 1 0 4.3 0a2.1 2.1 0 1 0 -4.3 0M425.8 264.3a2.1 2.1 0 1 0 4.3 0a2.1 2.1 0 1 0 -4.3 0M426.5 264.6a2.1 2.1 0 1 0 4.3 0a2.1 2.1 0 1 0 -4.3 0M422.9 265a2.1 2.1 0 1 0 4.3 0a2.1 2.1 0 1 0 -4.3 0M423.5 265.2a2.1 2.1 0 1 0 4.3 0a2.1 2.1 0 1 0 -4.3 0M424.9 265.5a2.1 2.1 0 1 0 4.3 0a2.1 2.1 0 1 0 -4.3 0M422.4 265.8a2.1 2.1 0 1 0 4.3 0a2.1 2.1 0 1 0 -4.3 0M423.2 266.1a2.1 2.1 0 1 0 4.3 0a2.1 2.1 0 1 0 -4.3 0M421.9 266.5a2.1 2.1 0 1 0 4.3 0a2.1 2.1 0 1 0 -4.3 0M419.3 266.8a2.1 2.1 0 1 0 4.3 0a2.1 2.1 0 1 0 -4.3 0M420.5 267.1a2.1 2.1 0 1 0 4.3 0a2.1 2.1 0 1 0 -4.3 0M422.1 267.4a2.1 2.1 0 1 0 4.3 0a2.1 2.1 0 1 0 -4.3 0M419.9 267.6a2.1 2.1 0 1 0 4.3 0a2.1 2.1 0 1 0 -4.3 0M417.8 268.2a2.1 2.1 0 1 0 4.3 0a2.1 2.1 0 1 0 -4.3 0M418.7 268.7a2.1 2.1 0 1 0 4.3 0a2.1 2.1 0 1 0 -4.3 0M419.2 269a2.1 2.1 0 1 0 4.3 0a2.1 2.1 0 1 0 -4.3 0M419.1 269.6a2.1 2.1 0 1 0 4.3 0a2.1 2.1 0 1 0 -4.3 0M418.5 269.9a2.1 2.1 0 1 0 4.3 0a2.1 2.1 0 1 0 -4.3 0M418 270.5a2.1 2.1 0 1 0 4.3 0a2.1 2.1 0 1 0 -4.3 0M415.3 270.8a2.1 2.1 0 1 0 4.3 0a2.1 2.1 0 1 0 -4.3 0M415.2 271.4a2.1 2.1 0 1 0 4.3 0a2.1 2.1 0 1 0 -4.3 0" stroke="#00f" stroke-width="1.15"/>
</g>
<text transform="translate(288 237.3) scale(1.04 1)" text-anchor="end">0</text>
<text transform="translate(286 310.3) scale(1.04 1)" text-anchor="end">-0.5</text>
<text transform="translate(288 380) scale(1.04 1)" text-anchor="end">-1</text>
<text transform="translate(324.4 410) scale(1.04 1)" text-anchor="middle">-1</text>
<text transform="translate(394.3 410.3) scale(1.04 1)" text-anchor="middle">-0.5</text>
<text transform="translate(471.8 410.7) scale(1.04 1)" text-anchor="middle">0</text>
<text transform="translate(297.2 247.8) scale(0.93 1)">(d)</text>
<text transform="translate(371 428.6) scale(1.060 0.950)" font-size="18.5" font-family="'Liberation Serif', serif">Δ</text>
<text transform="translate(382.9 428.6) scale(1.250 0.950)" font-size="18.5" font-family="'Liberation Serif', serif">λ</text>
<text transform="translate(393.6 432.6) scale(1.02 1)" font-size="13.3">appr</text>
<text transform="translate(426.6 428.1) scale(1.05 1)">(%)</text>
<g transform="translate(263.5 285.2) rotate(-90)">
<text transform="translate(-.3 0) scale(0.986 1.050)" font-size="18.5" font-family="'Liberation Serif', serif">Δ</text>
<text transform="translate(11.1 0) scale(1.250 1.050)" font-size="18.5" font-family="'Liberation Serif', serif">λ</text>
<text transform="translate(22.3 3.8) scale(1 1.04)" font-size="13">real</text>
<text transform="translate(53 -2.6) scale(1 1.06)">(%)</text>
</g>
</svg>
</body></html>
